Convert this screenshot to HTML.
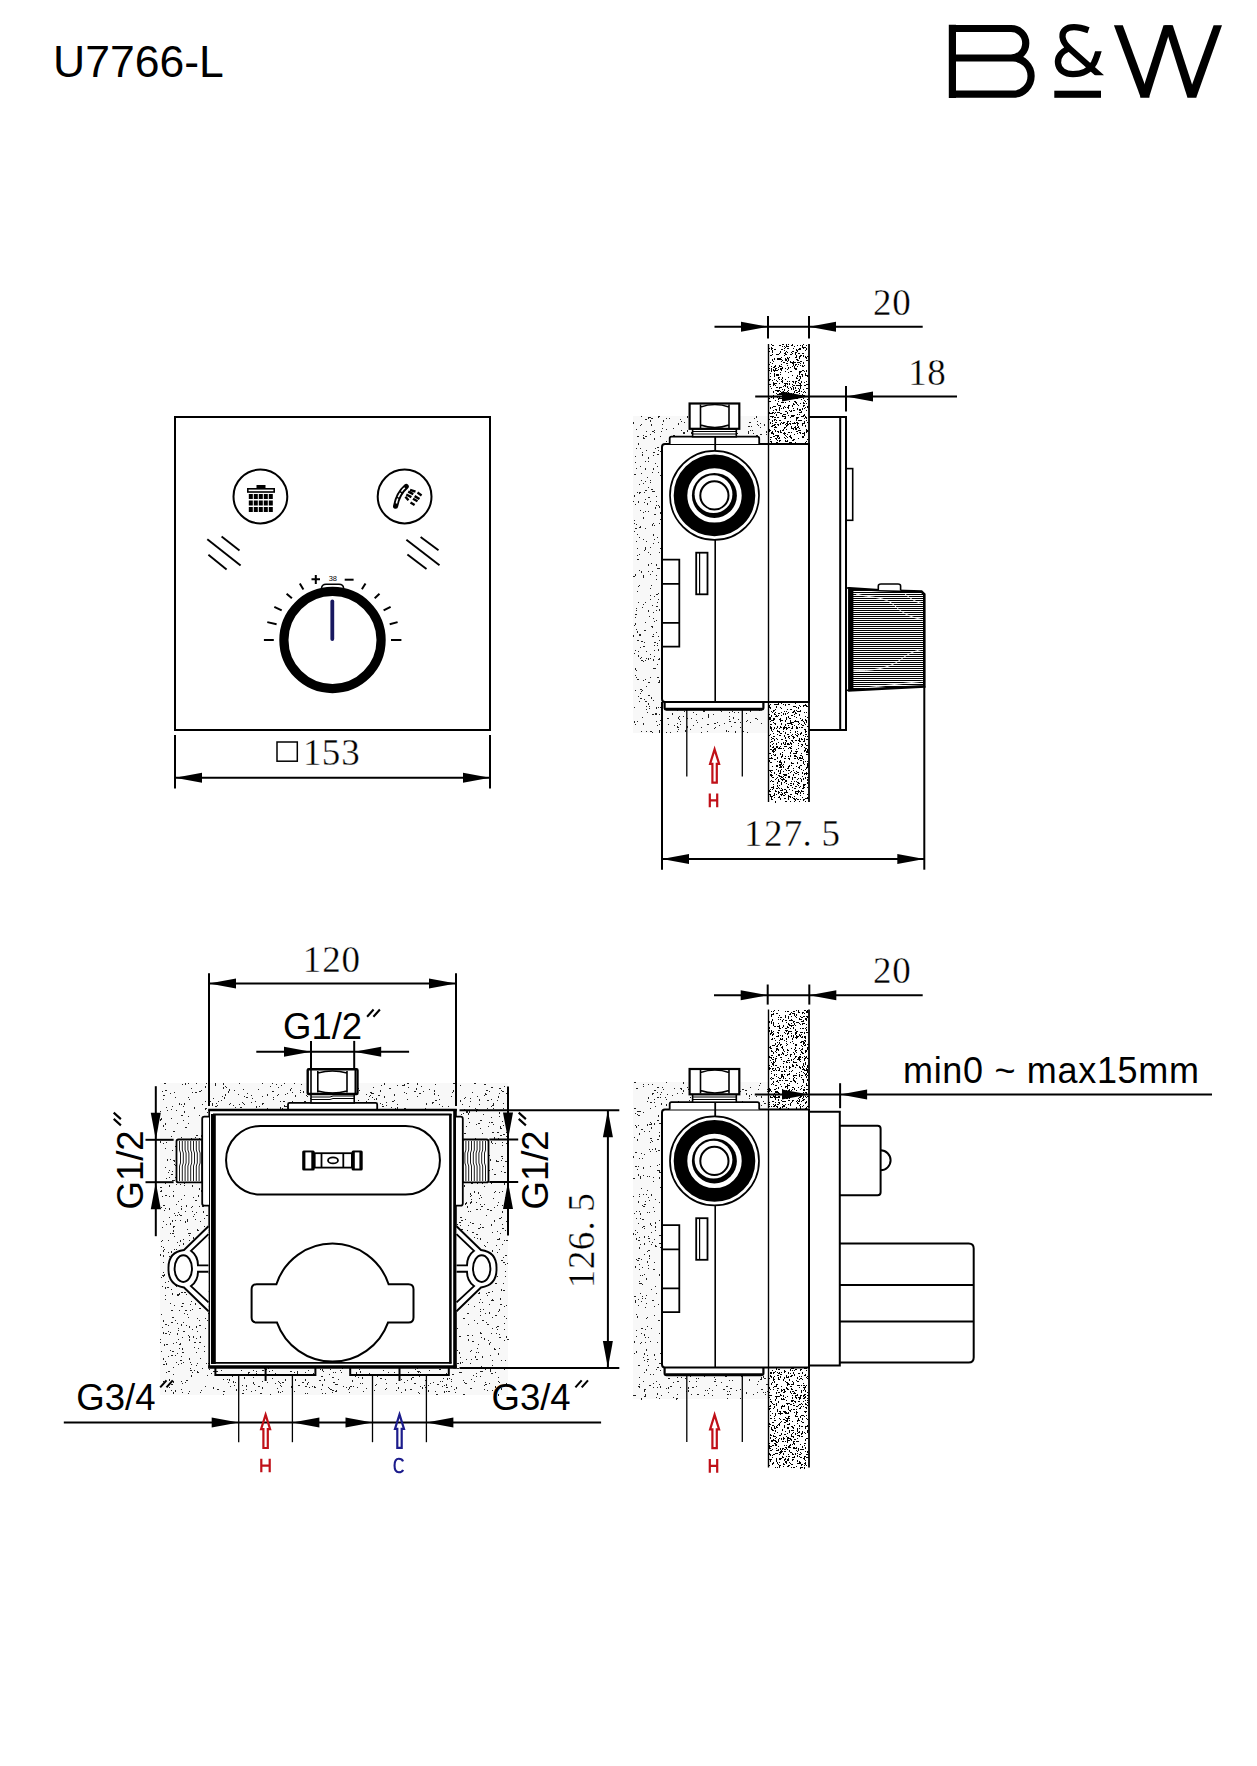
<!DOCTYPE html>
<html><head><meta charset="utf-8"><title>U7766-L</title>
<style>
html,body{margin:0;padding:0;background:#fff;}
svg{display:block}
.sans{font-family:"Liberation Sans",sans-serif;fill:#000;stroke:none}
.serif{font-family:"Liberation Serif",serif;fill:#000;stroke:none}
.thin{stroke:#fff;stroke-width:0.35px;paint-order:fill}
text{-webkit-font-smoothing:antialiased}
.f{fill:#000;stroke:none}
</style></head><body>
<svg width="1257" height="1766" viewBox="0 0 1257 1766" stroke="#000" fill="none" stroke-linecap="butt">

<text x="53" y="77.3" class="sans" font-size="44.5">U7766-L</text><g class="logo"><path d="M952.4 28.5 H1011 A14.75 14.75 0 0 1 1011 58 H952.4 M952.4 58 H1013 A18.1 18.1 0 0 1 1013 94.2 H952.4 M952.4 24.8 V97.9" stroke-width="7.2" fill="none"/><clipPath id="ampclip"><path d="M1040 18 H1090.5 V51.2 H1110 V75.3 H1086 V85 H1040 Z"/></clipPath><g clip-path="url(#ampclip)"><path d="M1088.5 30.3 C1082 28 1078 27.2 1074 27.2 C1066 27.2 1062 31 1062.5 37 C1063 42 1066 45.5 1070 49 L1102 77.5 M1068.5 48.5 C1061 52 1057.5 57 1058 63 C1058.5 70 1065 74.2 1073 74.2 C1083 74.2 1090 70 1094 63 C1096 59 1097.8 54 1099.8 46" stroke-width="6.3" fill="none"/></g><rect x="1054.3" y="90.7" width="46.7" height="7.1" class="f"/><path class="f" d="M1113.9 25.2 H1122.8 L1149.6 97.6 H1140.7 Z"/><path class="f" d="M1140.1 97.6 H1149 L1171.8 25.2 H1163.5 Z"/><path class="f" d="M1164.6 25.2 H1172.8 L1196.3 97.6 H1187.4 Z"/><path class="f" d="M1187.4 97.6 H1196.3 L1222 25.2 H1213.6 Z"/></g><rect x="175" y="417" width="315.00" height="313.00" rx="0" stroke-width="2" /><circle cx="260.4" cy="496.5" r="26.9" stroke-width="2"/><circle cx="404.6" cy="496.5" r="26.9" stroke-width="2"/><rect class="f" x="256.5" y="485" width="9" height="3.5"/><rect x="247.8" y="488.8" width="26.4" height="3.2" stroke-width="1.6"/><rect class="f" x="248.8" y="494" width="4" height="5"/><rect class="f" x="253.8" y="494" width="4" height="5"/><rect class="f" x="258.8" y="494" width="4" height="5"/><rect class="f" x="263.8" y="494" width="4" height="5"/><rect class="f" x="268.8" y="494" width="4" height="5"/><rect class="f" x="248.8" y="500.5" width="4" height="5.0"/><rect class="f" x="253.8" y="500.5" width="4" height="5.0"/><rect class="f" x="258.8" y="500.5" width="4" height="5.0"/><rect class="f" x="263.8" y="500.5" width="4" height="5.0"/><rect class="f" x="268.8" y="500.5" width="4" height="5.0"/><rect class="f" x="248.8" y="507" width="4" height="5"/><rect class="f" x="253.8" y="507" width="4" height="5"/><rect class="f" x="258.8" y="507" width="4" height="5"/><rect class="f" x="263.8" y="507" width="4" height="5"/><rect class="f" x="268.8" y="507" width="4" height="5"/><path d="M395.6 506.2 Q397.6 494 406.2 486.5" stroke-width="5.2" stroke-linecap="round" fill="none"/><path d="M396.4 503.5 Q398.2 494 404.8 487.8" stroke="#fff" stroke-width="1.5" stroke-dasharray="5 1.5" fill="none"/><path d="M410.1 489.8 L415.5 491.6 M417.5 492.6 L421.6 495.4 M408.2 491.7 L413.3 494.2 M406.3 494.5 L411.4 497.1 M414.6 496.1 L419.5 499 M405.4 496.8 L408.5 500.3 M413 498.7 L417.5 501.2 M410.5 502.5 L414.6 505" stroke-width="2.4" fill="none"/><line x1="207.3" y1="539.2" x2="240.6" y2="565.4" stroke-width="1.9" /><line x1="221.6" y1="536.5" x2="239.5" y2="550.4" stroke-width="1.9" /><line x1="208.4" y1="554.7" x2="226.6" y2="569.4" stroke-width="1.9" /><line x1="406.4" y1="539.7" x2="439.5" y2="565.2" stroke-width="1.9" /><line x1="420.6" y1="536.9" x2="438.5" y2="550.3" stroke-width="1.9" /><line x1="407.4" y1="554.6" x2="426.5" y2="569" stroke-width="1.9" /><circle cx="332.5" cy="640" r="48.6" stroke-width="9.2"/><path d="M321.5 588 Q322 584.5 326 584.3 H339 Q343.3 584.5 343.6 588" stroke-width="1.5" fill="none"/><line x1="332.3" y1="601.5" x2="332.3" y2="639" stroke="#181860" stroke-width="3.8" stroke-linecap="round"/><line x1="263.9" y1="640" x2="273.8" y2="640" stroke-width="2" /><line x1="391" y1="640" x2="401.4" y2="640" stroke-width="2" /><line x1="267.3" y1="622.1" x2="276.6" y2="624.3" stroke-width="2" /><line x1="274.3" y1="606.8" x2="281.7" y2="610.3" stroke-width="2" /><line x1="286.6" y1="593.7" x2="291.9" y2="598.2" stroke-width="2" /><line x1="299.8" y1="583.5" x2="303.4" y2="589.5" stroke-width="2" /><line x1="361.9" y1="589.3" x2="365.5" y2="583.5" stroke-width="2" /><line x1="374.7" y1="598.2" x2="379.5" y2="593.7" stroke-width="2" /><line x1="383.6" y1="610.3" x2="390.6" y2="606.8" stroke-width="2" /><line x1="389.7" y1="624.3" x2="397.6" y2="622.1" stroke-width="2" /><line x1="344.7" y1="579.7" x2="353.6" y2="579.7" stroke-width="2" /><path d="M311.5 579.3 H320 M315.8 575 V584" stroke-width="2"/><text x="332.8" y="580.8" class="sans" font-size="7.5" text-anchor="middle">38</text><line x1="175" y1="735" x2="175" y2="788.6" stroke-width="2" /><line x1="490" y1="735" x2="490" y2="788.6" stroke-width="2" /><line x1="175" y1="777.8" x2="490" y2="777.8" stroke-width="2" /><polygon class="f" points="175.0,777.8 202.0,772.8 202.0,782.8"/><polygon class="f" points="490.0,777.8 463.0,772.8 463.0,782.8"/><rect x="277" y="742" width="20.3" height="19.2" stroke-width="1.5"/><text class="serif thin" font-size="37" text-anchor="middle" ><tspan x="312.2" y="764.5">1</tspan><tspan x="331.1" y="764.5">5</tspan><tspan x="350.6" y="764.5">3</tspan></text><path fill="#f8f8f8" stroke="none" d="M633 416 H768 V443 H662 V709 H768 V733 H633 Z"/><path fill="#222" stroke="none" d="M748 433h1v1h-1zM752 430h1v1h-1zM681 421h1v1h-1zM754 436h1v1h-1zM680 419h1v1h-1zM669 418h1v1h-1zM643 435h1v1h-1zM748 436h1v1h-1zM673 435h2v1h-2zM649 417h2v1h-2zM694 435h2v1h-2zM751 426h1v1h-1zM683 432h1v2h-1zM708 431h2v1h-2zM654 430h1v1h-1zM737 433h1v1h-1zM654 438h1v2h-1zM691 432h1v2h-1zM650 434h1v1h-1zM735 419h1v1h-1zM731 418h1v1h-1zM633 422h1v2h-1zM646 431h1v1h-1zM734 429h2v1h-2zM683 440h1v1h-1zM719 418h1v1h-1zM636 429h1v1h-1zM663 420h1v2h-1zM658 416h2v1h-2zM757 421h1v1h-1zM681 430h1v1h-1zM666 429h1v1h-1zM662 428h1v1h-1zM687 416h1v2h-1zM710 416h1v2h-1zM733 435h1v1h-1zM658 417h1v1h-1zM687 430h1v2h-1zM717 442h1v2h-1zM651 418h2v1h-2zM695 416h1v1h-1zM728 435h1v1h-1zM756 442h1v1h-1zM731 421h1v1h-1zM712 423h1v1h-1zM696 439h1v2h-1zM683 437h1v1h-1zM756 435h2v1h-2zM645 419h2v1h-2zM764 424h1v2h-1zM733 424h1v1h-1zM758 425h1v1h-1zM650 420h1v2h-1zM651 424h1v2h-1zM685 439h2v1h-2zM701 429h1v1h-1zM648 417h1v2h-1zM727 432h1v1h-1zM666 418h1v1h-1zM748 426h1v1h-1zM766 434h1v1h-1zM641 416h1v1h-1zM724 438h1v1h-1zM641 416h1v1h-1zM652 431h2v1h-2zM712 426h2v1h-2zM651 418h1v1h-1zM727 439h2v1h-2zM666 441h1v1h-1zM720 427h2v1h-2zM754 418h1v1h-1zM739 441h2v1h-2zM760 434h2v1h-2zM730 428h1v1h-1zM651 418h2v1h-2zM662 424h1v1h-1zM717 428h1v1h-1zM750 430h1v1h-1zM654 432h1v1h-1zM640 425h1v1h-1zM756 416h1v2h-1zM661 431h1v1h-1zM757 424h1v1h-1zM727 425h2v1h-2zM684 432h1v2h-1zM720 437h1v1h-1zM760 423h1v1h-1zM697 422h1v1h-1zM684 422h1v1h-1zM714 422h2v1h-2zM760 427h1v1h-1zM643 438h2v1h-2zM703 442h1v2h-1zM748 431h1v2h-1zM687 442h1v1h-1zM766 431h1v1h-1zM748 426h2v1h-2zM641 424h1v1h-1zM643 437h1v1h-1zM723 425h1v1h-1zM637 436h2v1h-2zM749 422h2v1h-2zM701 423h1v1h-1zM645 436h2v1h-2zM660 436h1v1h-1zM727 418h1v1h-1zM684 442h1v1h-1zM678 438h2v1h-2zM753 433h1v1h-1zM678 423h1v2h-1zM721 433h1v1h-1zM766 432h1v1h-1zM673 428h1v1h-1zM690 418h1v1h-1zM732 420h1v1h-1zM683 436h1v1h-1zM633 635h1v1h-1zM653 700h1v1h-1zM643 680h1v1h-1zM639 493h1v1h-1zM659 506h1v2h-1zM661 642h1v1h-1zM642 717h1v1h-1zM643 577h1v1h-1zM660 451h1v1h-1zM635 462h1v1h-1zM650 658h1v1h-1zM648 457h1v2h-1zM660 475h1v1h-1zM634 531h1v1h-1zM654 514h1v1h-1zM649 708h1v1h-1zM655 668h1v1h-1zM648 487h1v1h-1zM647 712h1v1h-1zM659 730h1v1h-1zM649 706h1v1h-1zM650 574h1v1h-1zM645 549h1v1h-1zM637 721h1v1h-1zM651 697h1v2h-1zM650 501h1v1h-1zM652 636h2v1h-2zM634 707h1v1h-1zM650 731h2v1h-2zM635 528h2v1h-2zM650 677h1v1h-1zM658 649h1v2h-1zM648 695h2v1h-2zM646 686h1v1h-1zM636 541h1v1h-1zM633 576h2v1h-2zM657 454h2v1h-2zM637 559h2v1h-2zM642 607h1v1h-1zM640 698h2v1h-2zM656 505h1v1h-1zM652 571h1v1h-1zM655 714h1v1h-1zM633 635h1v1h-1zM659 714h1v1h-1zM650 547h1v1h-1zM650 554h1v1h-1zM660 720h1v1h-1zM660 512h1v2h-1zM656 620h1v1h-1zM643 604h1v1h-1zM639 554h1v1h-1zM639 492h2v1h-2zM640 510h1v1h-1zM641 641h2v1h-2zM659 658h1v1h-1zM655 507h1v2h-1zM653 452h2v1h-2zM651 626h1v1h-1zM644 502h1v1h-1zM653 618h1v1h-1zM654 539h1v1h-1zM648 497h2v1h-2zM657 725h1v1h-1zM661 689h2v1h-2zM638 501h1v2h-1zM659 523h1v1h-1zM654 491h1v1h-1zM637 679h2v1h-2zM636 610h1v1h-1zM646 706h1v1h-1zM639 634h2v1h-2zM655 463h1v1h-1zM638 651h1v1h-1zM656 632h1v1h-1zM639 527h2v1h-2zM658 450h1v1h-1zM635 650h1v1h-1zM639 701h1v1h-1zM643 575h1v2h-1zM636 524h1v1h-1zM645 511h1v1h-1zM661 718h1v1h-1zM657 664h1v1h-1zM645 548h1v1h-1zM635 617h1v1h-1zM636 448h1v1h-1zM653 468h1v2h-1zM654 596h1v1h-1zM654 650h1v1h-1zM650 482h1v1h-1zM648 552h1v1h-1zM657 645h1v1h-1zM633 501h1v1h-1zM656 564h1v2h-1zM645 701h2v1h-2zM639 635h2v1h-2zM641 571h1v2h-1zM643 724h1v1h-1zM646 709h1v1h-1zM636 670h1v1h-1zM635 724h1v1h-1zM657 466h1v1h-1zM638 640h1v1h-1zM638 696h1v1h-1zM652 472h1v1h-1zM648 658h1v2h-1zM645 602h1v1h-1zM642 690h1v1h-1zM650 588h1v1h-1zM656 594h2v1h-2zM657 568h1v1h-1zM653 523h1v1h-1zM654 642h2v1h-2zM643 646h2v1h-2zM656 606h2v1h-2zM661 557h1v1h-1zM648 571h1v1h-1zM640 466h1v1h-1zM658 682h2v1h-2zM659 568h1v1h-1zM636 468h1v1h-1zM647 503h1v2h-1zM634 625h1v1h-1zM636 629h1v1h-1zM654 656h1v1h-1zM641 657h1v1h-1zM656 714h1v1h-1zM637 591h1v1h-1zM640 689h2v1h-2zM661 601h1v1h-1zM652 626h1v2h-1zM652 732h1v1h-1zM639 585h1v1h-1zM639 570h1v1h-1zM653 543h1v1h-1zM634 474h2v1h-2zM641 660h2v1h-2zM634 495h1v2h-1zM641 480h1v1h-1zM654 525h1v1h-1zM653 634h1v1h-1zM644 550h1v1h-1zM648 511h1v1h-1zM635 504h1v1h-1zM659 552h1v1h-1zM656 575h1v1h-1zM637 631h1v2h-1zM659 609h1v2h-1zM657 537h1v1h-1zM644 492h1v1h-1zM643 483h1v1h-1zM646 731h1v1h-1zM659 680h1v2h-1zM657 447h2v1h-2zM639 484h1v1h-1zM648 610h1v2h-1zM637 555h1v1h-1zM656 610h1v1h-1zM636 608h1v1h-1zM651 585h1v1h-1zM658 599h1v1h-1zM640 647h1v1h-1zM656 707h1v2h-1zM644 630h2v1h-2zM654 645h1v1h-1zM658 542h1v1h-1zM644 642h1v1h-1zM659 731h1v2h-1zM635 675h1v1h-1zM642 454h1v2h-1zM634 721h1v2h-1zM642 454h1v1h-1zM658 659h2v1h-2zM650 599h1v1h-1zM635 614h2v1h-2zM656 496h1v1h-1zM635 456h1v1h-1zM637 492h1v1h-1zM653 659h1v2h-1zM640 693h1v1h-1zM649 616h1v1h-1zM645 622h1v1h-1zM643 512h1v1h-1zM650 480h1v1h-1zM634 653h1v1h-1zM654 621h1v1h-1zM658 636h1v1h-1zM661 680h1v1h-1zM653 455h1v1h-1zM655 448h1v1h-1zM646 658h1v1h-1zM640 526h1v1h-1zM645 528h1v1h-1zM645 660h1v1h-1zM641 473h1v1h-1zM656 501h1v1h-1zM637 534h1v1h-1zM657 677h2v1h-2zM648 461h1v1h-1zM639 537h1v1h-1zM651 563h1v1h-1zM648 703h1v2h-1zM638 586h1v1h-1zM657 602h1v1h-1zM659 724h1v1h-1zM641 691h1v1h-1zM643 723h1v1h-1zM635 690h1v1h-1zM645 468h1v2h-1zM637 640h1v1h-1zM658 707h1v1h-1zM658 472h1v1h-1zM640 448h1v1h-1zM661 633h1v1h-1zM640 658h1v1h-1zM638 655h1v2h-1zM643 517h1v2h-1zM660 707h2v1h-2zM656 579h1v1h-1zM634 520h1v1h-1zM638 443h1v2h-1zM660 519h1v1h-1zM635 623h1v2h-1zM655 713h2v1h-2zM648 682h2v1h-2zM656 721h1v1h-1zM642 452h1v1h-1zM646 541h1v1h-1zM635 668h1v2h-1zM650 654h1v1h-1zM638 602h1v1h-1zM645 481h1v1h-1zM647 477h1v1h-1zM654 514h2v1h-2zM645 679h1v1h-1zM658 505h1v1h-1zM633 636h1v1h-1zM648 564h1v2h-1zM636 677h1v1h-1zM660 548h1v1h-1zM637 591h1v1h-1zM650 595h1v1h-1zM657 643h1v1h-1zM635 574h1v2h-1zM645 499h1v1h-1zM641 731h1v1h-1zM653 612h1v1h-1zM645 490h2v1h-2zM652 491h2v1h-2zM653 534h1v2h-1zM645 461h1v1h-1zM651 489h2v1h-2zM634 523h1v1h-1zM646 651h1v1h-1zM643 661h1v1h-1zM637 548h1v1h-1zM659 640h1v1h-1zM646 450h1v1h-1zM652 605h1v1h-1zM658 568h1v1h-1zM652 714h2v1h-2zM643 539h1v1h-1zM653 668h2v1h-2zM645 547h1v1h-1zM658 593h1v1h-1zM652 524h1v2h-1zM650 595h1v1h-1zM644 699h1v1h-1zM735 731h1v2h-1zM728 731h1v1h-1zM687 727h1v1h-1zM742 730h1v2h-1zM672 713h1v2h-1zM735 722h1v1h-1zM704 711h1v1h-1zM708 717h1v1h-1zM677 723h1v1h-1zM679 716h1v1h-1zM731 726h1v1h-1zM733 717h1v2h-1zM757 719h1v1h-1zM677 709h1v2h-1zM708 716h1v1h-1zM708 714h1v2h-1zM732 711h1v1h-1zM713 714h1v1h-1zM746 713h1v1h-1zM747 732h1v1h-1zM740 727h1v1h-1zM759 709h1v2h-1zM714 723h2v1h-2zM729 721h2v1h-2zM713 714h1v1h-1zM678 717h1v2h-1zM704 710h1v1h-1zM666 732h1v1h-1zM680 721h1v1h-1zM738 712h1v1h-1zM714 728h1v1h-1zM734 722h1v1h-1zM724 723h1v1h-1zM750 722h1v1h-1zM677 727h2v1h-2zM729 719h1v1h-1zM717 722h1v1h-1zM703 710h1v2h-1zM740 722h1v1h-1zM738 719h1v1h-1zM701 727h1v1h-1zM693 712h1v1h-1zM693 725h1v1h-1zM668 724h1v1h-1zM729 716h1v1h-1zM746 721h1v1h-1zM670 732h1v1h-1zM747 720h1v1h-1zM715 727h1v1h-1zM690 729h1v1h-1zM734 712h1v1h-1zM674 725h1v1h-1zM677 726h1v1h-1zM720 709h1v2h-1zM755 718h2v1h-2zM684 711h1v1h-1zM719 725h1v1h-1zM707 731h1v1h-1zM667 718h2v1h-2zM702 718h1v1h-1zM680 724h1v1h-1zM687 718h1v1h-1zM750 710h1v2h-1zM707 724h2v1h-2zM743 731h1v1h-1zM687 726h1v1h-1zM686 710h1v1h-1zM701 732h1v1h-1zM697 722h1v1h-1zM679 719h1v1h-1zM761 723h1v1h-1zM683 716h1v1h-1zM677 731h1v1h-1zM696 714h1v1h-1zM726 730h1v2h-1zM696 720h1v1h-1zM729 712h1v1h-1zM691 718h1v1h-1zM685 730h1v2h-1zM678 729h1v1h-1zM721 711h1v1h-1z"/><path fill="#000" stroke="none" d="M785 438h1v1h-1zM802 347h1v1h-1zM784 427h2v1h-2zM779 358h1v1h-1zM784 392h1v1h-1zM805 375h2v1h-2zM782 396h1v2h-1zM793 364h1v1h-1zM773 361h1v1h-1zM797 360h2v1h-2zM769 370h1v1h-1zM779 365h1v2h-1zM781 413h1v1h-1zM782 367h1v1h-1zM781 393h1v2h-1zM792 397h2v1h-2zM778 377h2v1h-2zM788 421h1v1h-1zM807 430h1v1h-1zM773 383h1v1h-1zM788 405h1v1h-1zM780 405h1v1h-1zM780 351h1v2h-1zM770 439h1v1h-1zM794 346h1v1h-1zM795 390h1v1h-1zM769 401h2v1h-2zM780 423h1v1h-1zM781 359h1v1h-1zM798 388h1v1h-1zM802 376h1v1h-1zM775 419h1v1h-1zM792 381h2v1h-2zM774 370h1v2h-1zM792 362h1v2h-1zM803 355h1v2h-1zM789 383h1v2h-1zM774 424h2v1h-2zM788 405h2v1h-2zM772 354h1v1h-1zM803 395h2v1h-2zM807 388h1v1h-1zM798 427h1v1h-1zM772 425h2v1h-2zM800 386h1v1h-1zM777 437h1v1h-1zM777 424h1v1h-1zM795 357h2v1h-2zM792 363h2v1h-2zM795 381h2v1h-2zM779 410h1v1h-1zM800 432h1v1h-1zM799 379h1v2h-1zM794 362h2v1h-2zM803 366h1v1h-1zM800 387h1v2h-1zM800 378h1v1h-1zM804 408h1v1h-1zM791 432h1v1h-1zM771 441h1v2h-1zM804 434h1v1h-1zM800 377h1v1h-1zM787 387h1v1h-1zM806 345h1v1h-1zM785 385h1v1h-1zM798 380h1v1h-1zM791 388h1v2h-1zM791 438h1v1h-1zM795 388h1v1h-1zM780 432h1v1h-1zM792 386h1v1h-1zM802 365h1v2h-1zM792 405h1v2h-1zM774 436h1v1h-1zM795 365h1v1h-1zM806 410h1v1h-1zM795 382h1v1h-1zM786 436h1v1h-1zM781 364h1v1h-1zM780 372h1v1h-1zM780 424h1v1h-1zM799 372h2v1h-2zM777 358h1v2h-1zM780 405h1v2h-1zM771 397h1v1h-1zM793 428h1v1h-1zM806 370h1v2h-1zM792 344h1v1h-1zM786 396h1v1h-1zM804 391h1v1h-1zM804 422h1v2h-1zM787 413h1v1h-1zM806 381h1v1h-1zM777 397h1v1h-1zM805 426h1v1h-1zM798 362h2v1h-2zM793 416h1v1h-1zM781 361h1v1h-1zM791 428h2v1h-2zM775 385h1v1h-1zM803 362h1v2h-1zM805 392h1v1h-1zM783 407h1v2h-1zM793 393h1v1h-1zM779 420h1v1h-1zM788 407h1v2h-1zM770 384h1v1h-1zM788 406h1v1h-1zM778 405h2v1h-2zM797 375h1v2h-1zM777 394h2v1h-2zM803 415h1v2h-1zM799 348h1v2h-1zM786 363h1v1h-1zM787 381h1v1h-1zM799 410h1v1h-1zM807 439h1v1h-1zM770 441h2v1h-2zM787 412h1v1h-1zM787 437h1v1h-1zM798 388h1v1h-1zM806 360h2v1h-2zM785 414h1v1h-1zM775 431h1v1h-1zM769 398h1v1h-1zM796 420h1v1h-1zM799 393h1v1h-1zM781 381h1v1h-1zM773 382h1v1h-1zM796 418h1v2h-1zM799 383h2v1h-2zM799 432h1v1h-1zM800 386h1v1h-1zM796 418h1v1h-1zM772 352h1v1h-1zM786 354h1v1h-1zM770 386h1v1h-1zM773 395h1v1h-1zM772 359h1v1h-1zM783 422h1v1h-1zM776 435h1v1h-1zM787 434h1v1h-1zM778 367h1v1h-1zM795 364h2v1h-2zM782 349h1v1h-1zM793 439h2v1h-2zM772 417h1v1h-1zM794 423h2v1h-2zM796 355h1v2h-1zM807 406h1v1h-1zM792 351h2v1h-2zM787 363h1v1h-1zM801 381h1v1h-1zM804 414h1v1h-1zM785 352h1v1h-1zM785 440h1v2h-1zM777 374h1v1h-1zM798 438h1v1h-1zM777 435h2v1h-2zM790 354h1v1h-1zM771 355h1v1h-1zM801 420h1v1h-1zM793 403h1v1h-1zM789 357h1v1h-1zM770 413h1v1h-1zM772 363h1v1h-1zM796 431h1v1h-1zM776 354h1v1h-1zM800 371h2v1h-2zM793 389h1v1h-1zM787 386h1v1h-1zM791 393h1v1h-1zM791 426h1v2h-1zM796 390h1v1h-1zM806 417h1v2h-1zM780 394h2v1h-2zM771 348h1v2h-1zM781 349h1v1h-1zM799 428h1v1h-1zM769 398h1v1h-1zM796 385h1v1h-1zM775 368h2v1h-2zM779 353h1v1h-1zM793 404h2v1h-2zM785 358h1v2h-1zM779 440h1v2h-1zM784 348h1v1h-1zM771 388h1v1h-1zM792 384h1v1h-1zM770 430h1v1h-1zM778 359h1v1h-1zM789 381h1v1h-1zM784 437h1v1h-1zM771 369h1v1h-1zM805 373h1v1h-1zM794 434h1v1h-1zM788 367h1v1h-1zM787 352h1v1h-1zM798 364h1v1h-1zM780 430h1v2h-1zM771 426h1v1h-1zM786 344h1v1h-1zM797 431h1v1h-1zM771 348h1v1h-1zM802 416h1v1h-1zM775 435h2v1h-2zM800 355h1v1h-1zM772 431h1v2h-1zM772 407h1v1h-1zM772 350h1v2h-1zM795 401h1v2h-1zM772 348h1v1h-1zM781 366h1v1h-1zM794 368h1v1h-1zM774 384h1v1h-1zM774 413h1v1h-1zM779 420h2v1h-2zM782 423h2v1h-2zM803 389h1v1h-1zM805 442h1v1h-1zM777 436h2v1h-2zM788 432h1v1h-1zM783 414h2v1h-2zM788 405h2v1h-2zM785 395h1v2h-1zM777 412h2v1h-2zM784 433h2v1h-2zM796 417h1v1h-1zM786 351h1v1h-1zM784 350h1v1h-1zM787 391h1v1h-1zM773 397h1v1h-1zM793 440h1v1h-1zM769 380h1v1h-1zM777 417h2v1h-2zM778 432h1v1h-1zM770 437h2v1h-2zM796 378h2v1h-2zM793 415h2v1h-2zM773 383h2v1h-2zM785 407h1v1h-1zM787 348h2v1h-2zM804 347h2v1h-2zM772 360h1v1h-1zM796 377h1v1h-1zM770 373h1v1h-1zM777 390h1v2h-1zM791 345h2v1h-2zM779 437h1v1h-1zM786 411h1v1h-1zM778 401h1v1h-1zM796 398h2v1h-2zM789 401h1v1h-1zM798 420h1v1h-1zM797 350h1v1h-1zM779 412h1v1h-1zM800 420h2v1h-2zM777 397h1v1h-1zM782 344h2v1h-2zM805 374h1v1h-1zM791 394h1v1h-1zM781 379h1v1h-1zM788 415h1v1h-1zM784 390h1v1h-1zM784 428h1v1h-1zM772 423h1v1h-1zM791 362h2v1h-2zM784 406h1v1h-1zM775 365h1v1h-1zM787 369h1v1h-1zM789 405h1v1h-1zM803 423h2v1h-2zM781 392h1v1h-1zM775 409h1v1h-1zM780 393h2v1h-2zM770 422h1v2h-1zM793 408h1v1h-1zM794 401h1v1h-1zM806 432h1v1h-1zM772 412h2v1h-2zM795 390h1v1h-1zM770 430h1v1h-1zM782 380h1v2h-1zM770 355h1v1h-1zM806 441h1v1h-1zM795 383h1v1h-1zM769 379h1v1h-1zM784 353h2v1h-2zM774 429h1v1h-1zM788 388h1v1h-1zM807 422h1v1h-1zM799 410h2v1h-2zM776 374h1v2h-1zM803 398h1v1h-1zM769 429h1v1h-1zM780 440h1v1h-1zM782 430h1v1h-1zM793 385h2v1h-2zM804 432h1v1h-1zM792 375h1v1h-1zM782 381h1v2h-1zM786 423h2v1h-2zM779 353h1v1h-1zM780 372h1v1h-1zM805 416h1v1h-1zM803 437h1v1h-1zM783 398h1v1h-1zM807 375h1v2h-1zM786 354h1v1h-1zM790 367h1v1h-1zM778 358h1v2h-1zM804 421h1v1h-1zM796 368h1v2h-1zM775 426h1v1h-1zM790 437h2v1h-2zM800 361h1v1h-1zM773 384h1v2h-1zM798 426h1v1h-1zM783 433h1v1h-1zM799 356h2v1h-2zM779 358h2v1h-2zM778 391h1v1h-1zM775 417h1v1h-1zM789 442h1v1h-1zM804 418h1v1h-1zM775 390h2v1h-2zM773 369h1v2h-1zM792 366h1v1h-1zM774 375h1v1h-1zM803 403h1v1h-1zM776 420h1v1h-1zM777 431h2v1h-2zM793 387h1v1h-1zM773 406h1v1h-1zM787 346h2v1h-2zM799 389h1v1h-1zM781 387h1v1h-1zM787 407h1v1h-1zM774 417h2v1h-2zM795 387h1v1h-1zM773 410h1v1h-1zM783 397h1v1h-1zM786 429h1v1h-1zM778 378h1v1h-1zM804 405h1v1h-1zM780 413h1v1h-1zM784 355h1v1h-1zM777 354h2v1h-2zM778 390h1v1h-1zM770 376h1v1h-1zM793 410h2v1h-2zM782 368h1v1h-1zM797 345h1v1h-1zM774 379h1v1h-1zM799 409h2v1h-2zM779 394h1v1h-1zM801 399h1v1h-1zM806 348h1v2h-1zM795 442h1v1h-1zM796 392h2v1h-2zM779 387h2v1h-2zM781 398h1v1h-1zM773 391h1v2h-1zM795 368h1v2h-1zM799 390h1v2h-1zM776 442h2v1h-2zM798 353h2v1h-2zM793 348h1v1h-1zM778 369h1v1h-1zM800 384h1v1h-1zM777 403h1v2h-1zM792 423h2v1h-2zM780 398h2v1h-2zM777 440h1v1h-1zM790 371h2v1h-2zM802 433h1v1h-1zM787 358h2v1h-2zM794 391h1v2h-1zM799 414h1v1h-1zM784 416h2v1h-2zM770 413h2v1h-2zM793 361h1v2h-1zM772 345h2v1h-2zM782 397h1v2h-1zM784 383h2v1h-2zM801 374h2v1h-2zM793 388h1v1h-1zM804 382h1v1h-1zM775 427h2v1h-2zM792 416h1v1h-1zM806 420h1v1h-1zM793 382h1v1h-1zM806 431h2v1h-2zM797 351h1v1h-1zM802 423h1v1h-1zM801 382h1v1h-1zM792 396h2v1h-2zM791 352h1v1h-1zM805 416h1v2h-1zM798 349h2v1h-2zM774 358h1v2h-1zM778 391h1v1h-1zM785 379h1v1h-1zM778 438h2v1h-2zM785 347h1v1h-1zM793 365h1v1h-1zM784 433h1v2h-1zM797 366h1v1h-1zM805 350h1v1h-1zM791 415h2v1h-2zM798 349h1v1h-1zM800 430h1v1h-1zM771 347h1v1h-1zM776 396h1v1h-1zM797 422h1v1h-1zM803 433h2v1h-2zM773 436h1v1h-1zM774 349h2v1h-2zM798 382h1v1h-1zM803 436h1v1h-1zM786 359h1v1h-1zM788 377h1v1h-1zM788 344h1v1h-1zM789 410h1v1h-1zM800 403h1v1h-1zM782 377h1v2h-1zM782 402h2v1h-2zM791 354h1v1h-1zM797 423h1v1h-1zM794 366h1v2h-1zM800 365h1v1h-1zM797 417h1v2h-1zM770 362h1v1h-1zM805 407h1v1h-1zM782 415h1v2h-1zM779 397h1v1h-1zM785 384h1v2h-1zM775 369h1v2h-1zM791 410h1v2h-1zM774 358h1v1h-1zM776 387h2v1h-2zM787 440h1v1h-1zM772 413h1v1h-1zM790 436h1v1h-1zM775 396h1v1h-1zM775 383h2v1h-2zM790 396h1v1h-1zM795 352h2v1h-2zM773 367h2v1h-2zM775 438h1v1h-1zM801 396h2v1h-2zM795 353h1v2h-1zM770 416h1v1h-1zM775 431h1v1h-1zM792 353h1v1h-1zM775 365h1v1h-1zM776 422h1v1h-1zM774 427h1v1h-1zM803 392h1v1h-1zM786 383h1v1h-1zM796 349h1v2h-1zM801 361h1v1h-1zM780 368h1v2h-1zM802 353h2v1h-2zM772 426h1v1h-1zM797 414h1v1h-1zM805 425h1v1h-1zM787 365h1v1h-1zM785 402h1v1h-1zM807 356h2v1h-2zM781 402h1v1h-1zM775 400h1v1h-1zM777 375h2v1h-2zM774 436h1v1h-1zM798 430h2v1h-2zM799 357h1v2h-1zM785 424h1v1h-1zM772 413h1v1h-1zM776 370h1v1h-1zM790 417h1v1h-1zM800 410h1v1h-1zM787 421h1v2h-1zM787 361h1v1h-1zM787 397h1v1h-1zM777 381h1v1h-1zM771 344h1v1h-1zM779 383h1v1h-1zM795 428h1v2h-1zM806 430h1v1h-1zM802 408h1v2h-1zM769 364h1v1h-1zM769 412h1v1h-1zM798 391h2v1h-2zM803 344h1v1h-1zM776 438h1v2h-1zM779 408h1v2h-1zM794 427h2v1h-2zM795 426h1v1h-1zM786 345h1v2h-1zM784 418h2v1h-2zM801 391h1v1h-1zM788 372h1v1h-1zM792 415h1v1h-1zM797 431h1v1h-1zM785 411h1v1h-1zM778 398h2v1h-2zM769 368h1v1h-1zM775 366h1v1h-1zM797 404h1v1h-1zM802 353h2v1h-2zM798 423h1v1h-1zM782 346h1v1h-1zM797 408h1v2h-1zM773 433h1v2h-1zM775 412h1v1h-1zM774 366h1v2h-1zM769 348h1v1h-1zM788 368h1v1h-1zM793 394h2v1h-2zM776 393h1v1h-1zM782 360h1v1h-1zM797 362h1v1h-1zM770 379h1v1h-1zM781 432h1v1h-1zM786 441h2v1h-2zM783 398h1v1h-1zM795 428h1v1h-1zM804 435h1v1h-1zM781 369h1v2h-1zM785 435h1v1h-1zM771 368h1v1h-1zM779 390h1v1h-1zM807 399h1v1h-1zM778 424h1v2h-1zM769 413h2v1h-2zM796 357h1v1h-1zM804 403h1v1h-1zM789 436h1v1h-1zM774 406h2v1h-2zM769 351h1v1h-1zM792 440h1v1h-1zM785 417h1v1h-1zM790 421h1v1h-1zM795 365h1v1h-1zM804 400h1v1h-1zM770 373h1v1h-1zM775 409h2v1h-2zM803 405h1v2h-1zM807 384h2v1h-2zM789 396h2v1h-2zM791 442h1v1h-1zM788 424h1v1h-1zM776 410h1v1h-1zM774 349h1v1h-1zM799 371h1v1h-1zM778 398h1v2h-1zM797 417h2v1h-2zM802 375h1v1h-1zM774 419h1v2h-1zM793 381h1v1h-1zM779 388h1v1h-1zM796 355h1v1h-1zM782 389h1v1h-1zM798 385h2v1h-2zM800 385h2v1h-2zM797 433h1v1h-1zM772 420h1v2h-1zM787 383h1v2h-1zM801 411h1v2h-1zM801 355h1v1h-1zM805 401h1v1h-1zM781 422h1v1h-1zM796 359h2v1h-2zM797 385h1v1h-1zM788 390h1v1h-1zM806 357h1v2h-1zM797 362h1v1h-1zM771 416h2v1h-2zM772 352h1v1h-1zM787 424h1v2h-1zM796 428h1v2h-1zM796 402h1v2h-1zM790 411h1v1h-1zM801 416h1v1h-1zM798 423h1v1h-1zM771 366h1v1h-1zM789 423h2v1h-2zM797 378h1v1h-1zM790 424h1v1h-1zM793 395h1v1h-1zM785 360h2v1h-2zM803 402h1v1h-1zM780 366h1v1h-1zM769 431h1v1h-1zM785 368h1v1h-1zM796 422h1v1h-1zM776 380h1v1h-1zM781 368h1v1h-1zM784 432h1v1h-1zM806 429h1v1h-1zM776 414h1v2h-1zM790 387h1v1h-1zM779 345h2v1h-2zM800 348h1v2h-1zM802 370h2v1h-2zM783 386h1v1h-1zM783 391h1v1h-1zM771 433h2v1h-2zM781 357h1v1h-1zM788 359h1v2h-1zM773 425h2v1h-2zM806 388h1v1h-1zM785 396h2v1h-2zM786 383h2v1h-2zM780 374h1v1h-1zM800 345h1v1h-1zM799 373h1v1h-1zM804 371h1v1h-1zM805 356h1v2h-1zM771 432h1v2h-1zM798 362h2v1h-2zM774 375h1v2h-1zM784 422h1v1h-1zM769 419h1v1h-1zM802 394h1v1h-1zM786 425h1v2h-1zM806 381h1v1h-1zM769 419h1v1h-1zM783 344h1v1h-1zM774 373h1v2h-1zM793 429h1v1h-1zM782 380h1v1h-1zM777 370h1v1h-1zM779 359h1v1h-1zM807 406h1v2h-1zM797 424h1v2h-1zM785 354h1v1h-1zM806 403h1v1h-1zM775 430h1v1h-1zM791 416h1v1h-1zM802 345h1v2h-1zM804 365h1v1h-1zM788 392h1v2h-1zM799 420h1v1h-1zM790 361h1v2h-1zM804 415h1v1h-1zM775 422h1v1h-1zM770 407h1v2h-1zM803 347h1v2h-1zM779 379h1v1h-1zM786 354h1v1h-1zM788 432h2v1h-2zM784 346h1v1h-1zM786 392h1v1h-1zM785 352h1v1h-1zM800 363h1v1h-1zM799 412h2v1h-2zM794 422h1v1h-1zM781 408h1v1h-1zM785 386h1v1h-1zM780 391h1v1h-1zM779 393h1v1h-1zM783 416h1v1h-1zM772 380h1v1h-1zM783 397h1v1h-1zM802 436h1v2h-1zM798 405h1v1h-1zM797 424h1v1h-1zM784 385h1v1h-1zM783 362h2v1h-2zM797 427h1v1h-1zM769 430h2v1h-2zM800 433h1v1h-1zM777 358h1v1h-1zM773 398h1v1h-1zM780 359h1v1h-1zM790 442h1v1h-1zM802 425h1v1h-1zM790 435h1v2h-1zM779 407h1v1h-1zM804 385h2v1h-2zM806 384h2v1h-2zM771 370h1v2h-1zM785 379h1v1h-1zM783 429h1v2h-1zM773 416h1v1h-1zM799 373h1v2h-1zM785 371h1v1h-1zM769 384h2v1h-2zM778 374h1v2h-1zM784 389h1v1h-1zM787 357h1v1h-1zM799 376h2v1h-2zM802 424h1v2h-1zM778 787h1v1h-1zM775 714h1v1h-1zM778 771h1v1h-1zM783 742h1v2h-1zM780 707h1v1h-1zM796 751h2v1h-2zM785 769h1v1h-1zM774 714h2v1h-2zM788 773h1v1h-1zM778 748h1v1h-1zM804 740h1v2h-1zM796 756h1v1h-1zM769 760h1v1h-1zM799 714h1v2h-1zM773 733h1v1h-1zM776 715h1v1h-1zM801 781h1v1h-1zM781 788h1v1h-1zM799 768h1v1h-1zM781 720h1v1h-1zM770 717h1v1h-1zM795 703h1v1h-1zM798 745h1v1h-1zM789 765h1v2h-1zM783 764h1v1h-1zM773 736h2v1h-2zM806 772h1v2h-1zM796 707h1v1h-1zM798 708h1v1h-1zM772 731h1v1h-1zM806 721h1v2h-1zM784 789h2v1h-2zM802 756h1v2h-1zM797 784h1v1h-1zM777 758h1v1h-1zM792 763h2v1h-2zM798 740h2v1h-2zM798 743h1v1h-1zM792 779h1v1h-1zM784 711h1v1h-1zM792 741h1v1h-1zM771 797h1v2h-1zM791 723h1v1h-1zM793 768h1v1h-1zM807 736h1v1h-1zM783 778h1v2h-1zM770 745h1v1h-1zM775 801h1v2h-1zM796 798h1v1h-1zM799 787h1v1h-1zM796 726h1v1h-1zM794 716h1v1h-1zM793 742h1v1h-1zM791 722h1v1h-1zM786 741h1v1h-1zM779 731h1v1h-1zM771 798h1v1h-1zM783 713h1v1h-1zM791 740h2v1h-2zM778 779h1v2h-1zM800 799h1v1h-1zM799 727h1v1h-1zM797 736h1v1h-1zM806 705h1v1h-1zM807 726h2v1h-2zM779 767h2v1h-2zM805 744h1v1h-1zM770 704h1v1h-1zM804 747h1v1h-1zM776 791h1v1h-1zM780 790h1v1h-1zM789 738h1v1h-1zM782 780h1v1h-1zM779 719h1v1h-1zM799 738h1v1h-1zM794 796h1v1h-1zM785 742h1v2h-1zM787 786h1v1h-1zM807 773h1v1h-1zM784 735h1v1h-1zM775 712h1v1h-1zM807 754h1v1h-1zM775 748h1v1h-1zM800 755h2v1h-2zM807 749h1v2h-1zM805 734h2v1h-2zM802 797h1v1h-1zM781 777h1v1h-1zM776 765h2v1h-2zM773 746h1v2h-1zM807 797h1v2h-1zM772 751h2v1h-2zM797 799h2v1h-2zM797 791h2v1h-2zM769 714h1v1h-1zM782 777h1v1h-1zM783 776h1v1h-1zM796 766h1v1h-1zM788 716h1v2h-1zM804 764h1v1h-1zM807 765h2v1h-2zM777 782h1v1h-1zM786 719h1v1h-1zM793 798h2v1h-2zM779 747h1v1h-1zM798 785h1v1h-1zM795 731h1v2h-1zM791 762h1v1h-1zM796 717h1v1h-1zM770 770h1v1h-1zM770 726h1v1h-1zM803 759h1v1h-1zM790 743h1v1h-1zM795 712h1v2h-1zM793 711h2v1h-2zM773 711h1v1h-1zM801 720h2v1h-2zM800 757h1v1h-1zM791 750h1v2h-1zM792 726h1v1h-1zM781 712h1v1h-1zM788 736h2v1h-2zM795 777h1v1h-1zM789 718h1v1h-1zM778 703h1v2h-1zM781 708h1v1h-1zM792 734h1v1h-1zM800 711h1v1h-1zM773 788h1v1h-1zM780 776h1v1h-1zM771 775h2v1h-2zM770 774h1v2h-1zM775 716h1v1h-1zM769 770h1v1h-1zM807 761h1v1h-1zM784 750h1v1h-1zM771 799h2v1h-2zM781 762h1v2h-1zM783 748h1v1h-1zM805 761h1v1h-1zM784 726h1v1h-1zM780 727h2v1h-2zM806 751h1v1h-1zM770 789h1v1h-1zM807 763h1v2h-1zM783 704h1v1h-1zM796 721h2v1h-2zM785 724h1v2h-1zM775 790h1v2h-1zM781 748h1v1h-1zM803 786h1v1h-1zM780 799h1v1h-1zM779 764h1v2h-1zM790 709h2v1h-2zM802 772h1v2h-1zM785 720h1v1h-1zM797 711h2v1h-2zM777 734h1v1h-1zM792 736h2v1h-2zM797 731h1v1h-1zM799 801h1v1h-1zM798 724h1v1h-1zM785 798h1v1h-1zM781 792h1v1h-1zM770 707h1v2h-1zM795 731h1v1h-1zM806 702h1v1h-1zM805 743h1v1h-1zM807 717h1v1h-1zM798 792h1v1h-1zM804 712h1v1h-1zM788 787h1v1h-1zM782 756h1v1h-1zM771 711h1v1h-1zM796 749h1v1h-1zM785 727h2v1h-2zM785 801h2v1h-2zM778 797h2v1h-2zM774 723h1v1h-1zM773 718h1v1h-1zM804 785h1v1h-1zM785 794h1v1h-1zM786 783h1v1h-1zM793 738h1v1h-1zM797 757h1v2h-1zM774 718h1v2h-1zM805 749h1v1h-1zM783 766h1v2h-1zM793 722h1v1h-1zM795 751h1v1h-1zM786 790h1v2h-1zM801 744h2v1h-2zM794 710h1v1h-1zM807 779h1v1h-1zM804 773h1v2h-1zM770 771h1v1h-1zM801 727h2v1h-2zM800 710h1v1h-1zM790 722h1v2h-1zM797 772h2v1h-2zM779 762h2v1h-2zM791 781h1v1h-1zM803 721h1v1h-1zM785 733h1v1h-1zM780 720h1v1h-1zM780 735h1v1h-1zM797 793h1v2h-1zM780 754h1v1h-1zM771 720h2v1h-2zM792 777h1v2h-1zM787 728h1v1h-1zM794 781h1v1h-1zM807 780h1v1h-1zM769 718h1v1h-1zM785 792h1v1h-1zM774 793h1v1h-1zM790 785h2v1h-2zM803 791h1v1h-1zM782 793h1v1h-1zM781 782h1v1h-1zM791 765h1v1h-1zM806 720h1v1h-1zM786 792h2v1h-2zM778 713h2v1h-2zM785 756h1v1h-1zM783 731h1v1h-1zM799 757h1v1h-1zM773 752h1v1h-1zM788 743h1v2h-1zM769 719h2v1h-2zM786 746h1v1h-1zM807 777h2v1h-2zM804 750h1v2h-1zM774 772h1v1h-1zM807 782h1v1h-1zM800 733h1v2h-1zM796 752h1v2h-1zM791 743h1v1h-1zM783 727h1v1h-1zM773 743h1v1h-1zM796 771h1v1h-1zM778 770h1v2h-1zM791 735h1v1h-1zM805 749h1v2h-1zM772 750h2v1h-2zM793 775h1v1h-1zM788 723h2v1h-2zM789 718h2v1h-2zM790 755h1v1h-1zM790 752h1v1h-1zM784 774h1v2h-1zM800 718h1v1h-1zM794 788h2v1h-2zM778 793h1v1h-1zM788 756h1v1h-1zM771 787h2v1h-2zM806 745h2v1h-2zM796 728h1v1h-1zM770 791h1v1h-1zM790 721h1v1h-1zM794 706h2v1h-2zM788 758h2v1h-2zM770 724h1v1h-1zM774 704h2v1h-2zM807 794h1v1h-1zM803 784h1v2h-1zM806 748h1v1h-1zM771 737h1v1h-1zM775 723h1v2h-1zM801 746h1v1h-1zM782 720h1v1h-1zM774 727h1v2h-1zM804 740h1v1h-1zM787 709h1v1h-1zM780 718h1v2h-1zM777 746h1v2h-1zM781 795h1v1h-1zM779 732h1v1h-1zM805 778h1v1h-1zM800 765h1v1h-1zM777 730h1v2h-1zM806 720h1v1h-1zM788 770h1v1h-1zM789 770h1v1h-1zM802 725h2v1h-2zM780 778h1v1h-1zM800 760h2v1h-2zM786 780h1v2h-1zM788 784h1v1h-1zM769 794h2v1h-2zM783 727h1v2h-1zM786 728h2v1h-2zM783 727h1v1h-1zM780 753h1v1h-1zM791 724h2v1h-2zM779 792h1v1h-1zM807 752h2v1h-2zM784 782h1v1h-1zM805 769h1v1h-1zM769 760h1v2h-1zM795 793h2v1h-2zM773 720h1v1h-1zM804 729h1v1h-1zM777 783h1v1h-1zM782 752h1v1h-1zM798 721h1v2h-1zM797 784h1v1h-1zM769 790h1v2h-1zM788 773h1v1h-1zM775 709h1v1h-1zM804 799h1v1h-1zM790 794h2v1h-2zM778 771h1v1h-1zM799 739h1v2h-1zM771 757h1v2h-1zM801 724h1v1h-1zM776 704h2v1h-2zM772 747h1v1h-1zM795 740h2v1h-2zM796 781h1v1h-1zM772 781h1v1h-1zM769 705h1v2h-1zM780 754h1v1h-1zM789 747h2v1h-2zM784 746h2v1h-2zM796 727h1v1h-1zM781 767h1v1h-1zM789 759h1v1h-1zM795 734h1v1h-1zM801 738h1v1h-1zM801 779h1v2h-1zM786 729h1v1h-1zM781 764h1v1h-1zM788 748h1v1h-1zM806 767h1v1h-1zM798 778h1v1h-1zM801 753h1v1h-1zM786 770h1v1h-1zM796 773h1v1h-1zM791 783h1v1h-1zM800 786h1v1h-1zM769 707h2v1h-2zM798 783h1v1h-1zM794 714h1v1h-1zM788 727h2v1h-2zM777 757h1v1h-1zM781 743h1v2h-1zM777 761h1v1h-1zM782 789h1v2h-1zM807 783h1v1h-1zM771 772h1v1h-1zM802 788h1v1h-1zM801 791h1v1h-1zM794 755h1v2h-1zM771 775h1v1h-1zM770 727h1v1h-1zM799 711h1v1h-1zM792 790h1v1h-1zM783 714h1v1h-1zM799 723h1v1h-1zM781 769h1v1h-1zM799 783h1v1h-1zM802 776h1v1h-1zM801 732h1v2h-1zM776 706h1v2h-1zM779 762h1v1h-1zM794 758h2v1h-2zM805 732h1v1h-1zM781 776h1v2h-1zM780 726h1v2h-1zM803 800h1v1h-1zM780 760h1v1h-1zM805 729h1v1h-1zM773 787h1v1h-1zM801 780h1v1h-1zM793 753h2v1h-2zM800 795h1v1h-1zM796 735h1v1h-1zM789 789h1v1h-1zM805 777h1v1h-1zM773 719h2v1h-2zM803 778h1v2h-1zM778 775h2v1h-2zM770 781h1v1h-1zM795 800h1v1h-1zM770 795h1v2h-1zM785 774h1v2h-1zM770 734h1v1h-1zM797 735h1v1h-1zM799 715h1v1h-1zM804 738h1v2h-1zM803 761h1v2h-1zM770 719h1v1h-1zM775 749h1v2h-1zM786 774h1v2h-1zM794 799h2v1h-2zM794 725h1v1h-1zM798 791h2v1h-2zM771 755h1v1h-1zM774 739h1v2h-1zM771 796h1v1h-1zM791 746h1v1h-1zM801 769h1v1h-1zM777 726h1v2h-1zM806 731h1v1h-1zM806 754h2v1h-2zM790 748h2v1h-2zM792 712h2v1h-2zM770 749h2v1h-2zM774 719h1v1h-1zM779 796h1v2h-1zM783 728h2v1h-2zM798 734h1v1h-1zM773 795h1v1h-1zM777 777h1v1h-1zM771 770h2v1h-2zM773 784h1v1h-1zM788 798h1v2h-1zM782 765h1v1h-1zM780 764h1v1h-1zM785 721h1v1h-1zM793 770h1v1h-1zM802 745h1v1h-1zM781 723h1v1h-1zM784 792h1v2h-1zM787 768h2v1h-2zM788 725h1v1h-1zM783 774h2v1h-2zM771 741h2v1h-2zM770 753h1v1h-1zM773 754h1v1h-1zM790 772h1v1h-1zM772 789h1v1h-1zM804 784h2v1h-2zM802 739h1v1h-1zM779 788h1v1h-1zM801 790h1v2h-1zM786 729h1v1h-1zM798 782h1v1h-1zM791 762h1v2h-1zM786 774h1v1h-1zM795 791h1v2h-1zM783 727h1v1h-1zM779 775h1v2h-1zM772 702h1v1h-1zM805 748h1v1h-1zM790 720h1v1h-1zM785 743h1v1h-1zM805 798h2v1h-2zM805 716h1v1h-1zM771 739h1v1h-1zM798 759h1v1h-1zM777 765h1v2h-1zM780 798h1v2h-1zM783 771h1v1h-1zM799 741h1v1h-1zM772 738h2v1h-2zM795 786h2v1h-2zM778 731h2v1h-2zM770 718h1v1h-1zM770 774h2v1h-2zM787 734h2v1h-2zM771 729h1v1h-1zM785 702h1v1h-1zM780 770h1v1h-1zM784 744h2v1h-2zM790 742h1v1h-1zM796 793h1v1h-1zM774 773h1v1h-1zM779 773h1v1h-1zM805 724h1v1h-1zM794 777h1v1h-1zM806 773h1v1h-1zM797 751h1v1h-1zM780 772h1v2h-1zM784 761h1v2h-1zM799 741h2v1h-2zM772 777h1v1h-1zM798 790h1v1h-1zM775 779h1v1h-1zM787 713h1v1h-1zM773 710h2v1h-2zM788 795h1v2h-1zM774 759h1v1h-1zM775 759h1v1h-1zM805 730h1v2h-1zM776 778h1v1h-1zM794 772h1v1h-1zM780 766h2v1h-2zM788 766h1v2h-1zM777 785h1v2h-1zM805 801h1v1h-1zM788 776h1v2h-1zM791 744h1v1h-1zM799 766h1v1h-1zM782 754h1v2h-1zM802 791h2v1h-2zM776 794h1v1h-1zM805 773h1v1h-1zM769 758h2v1h-2zM776 746h1v1h-1zM780 765h1v1h-1zM772 712h1v1h-1zM776 744h1v1h-1zM793 774h1v1h-1zM806 752h1v1h-1zM804 787h1v1h-1zM785 794h1v1h-1zM775 714h1v1h-1zM798 707h1v1h-1zM781 703h1v1h-1zM785 777h1v1h-1zM770 727h2v1h-2zM785 721h1v1h-1zM781 715h1v1h-1zM788 799h1v1h-1zM771 776h1v1h-1zM775 716h1v1h-1zM796 791h1v1h-1zM780 721h1v1h-1zM801 739h1v1h-1zM800 706h1v1h-1zM795 753h2v1h-2zM772 744h1v1h-1zM783 795h2v1h-2zM801 758h2v1h-2zM791 728h2v1h-2zM803 787h1v1h-1zM771 730h1v1h-1zM785 713h1v1h-1zM771 780h1v1h-1zM800 778h1v1h-1zM799 758h1v1h-1zM798 767h2v1h-2zM806 739h2v1h-2zM806 768h1v1h-1zM780 746h1v1h-1zM769 753h1v1h-1zM785 704h1v1h-1zM802 719h1v2h-1zM790 742h1v1h-1zM795 773h1v1h-1zM773 722h1v1h-1zM790 756h1v1h-1zM791 715h2v1h-2zM787 787h1v1h-1zM785 705h1v1h-1zM773 786h1v1h-1zM778 742h1v1h-1zM800 792h1v2h-1zM790 796h1v1h-1zM807 749h1v1h-1zM791 722h2v1h-2zM795 713h2v1h-2zM788 712h1v1h-1zM785 780h1v2h-1zM803 741h1v1h-1zM803 787h1v1h-1zM770 727h2v1h-2zM774 755h2v1h-2zM797 733h1v1h-1zM784 779h1v1h-1zM806 706h2v1h-2zM781 756h1v2h-1zM774 751h1v1h-1zM784 758h2v1h-2zM786 746h1v1h-1zM807 798h2v1h-2zM776 774h1v1h-1zM781 779h2v1h-2zM794 721h2v1h-2zM785 740h2v1h-2zM788 716h1v1h-1zM806 774h1v1h-1zM781 724h1v1h-1zM805 736h1v1h-1zM776 766h1v1h-1zM786 711h1v1h-1zM806 702h1v1h-1zM778 781h2v1h-2zM774 748h1v2h-1zM803 706h1v1h-1zM779 728h1v1h-1zM788 776h2v1h-2zM780 790h2v1h-2zM779 761h2v1h-2zM792 797h1v1h-1zM796 710h1v1h-1zM785 737h1v2h-1zM790 801h1v1h-1zM794 714h1v1h-1zM806 774h1v1h-1zM797 779h1v1h-1zM795 720h1v2h-1zM780 771h1v1h-1zM769 717h1v1h-1zM784 789h1v1h-1zM793 737h2v1h-2zM789 777h1v1h-1zM785 732h1v1h-1zM793 706h2v1h-2zM807 717h1v1h-1zM787 743h1v2h-1zM797 727h1v2h-1zM794 756h2v1h-2zM791 771h1v1h-1zM776 769h1v1h-1zM790 730h1v1h-1zM790 753h1v1h-1zM786 717h1v2h-1zM790 797h1v1h-1zM783 729h1v1h-1zM793 783h1v2h-1zM801 791h1v1h-1zM799 758h2v1h-2zM807 787h1v1h-1zM803 793h1v1h-1zM801 724h1v1h-1zM803 799h1v2h-1zM807 767h1v1h-1zM779 785h1v1h-1zM785 714h1v1h-1zM805 704h1v1h-1zM779 748h2v1h-2zM770 770h1v1h-1zM794 801h1v1h-1zM797 782h1v1h-1zM773 749h1v1h-1zM773 729h1v1h-1zM779 735h1v1h-1zM803 705h2v1h-2zM792 727h1v1h-1zM769 735h1v1h-1zM776 728h1v1h-1zM776 788h2v1h-2zM779 747h1v1h-1zM789 796h1v1h-1zM770 742h1v1h-1zM799 705h1v1h-1zM793 702h2v1h-2zM776 747h1v1h-1zM792 724h1v1h-1zM795 755h1v1h-1zM807 726h1v1h-1zM792 787h1v1h-1zM770 728h2v1h-2zM781 783h1v2h-1zM780 733h2v1h-2zM806 712h1v1h-1zM804 722h1v2h-1zM772 796h1v1h-1zM788 704h2v1h-2zM771 724h1v1h-1zM770 746h1v1h-1zM802 788h1v1h-1zM788 797h1v1h-1zM784 798h1v1h-1zM778 791h1v2h-1zM805 719h1v2h-1zM778 715h1v1h-1zM807 765h1v2h-1zM774 794h1v2h-1zM798 748h1v1h-1zM771 715h1v2h-1zM788 737h1v1h-1zM803 762h1v2h-1zM803 735h1v1h-1zM790 732h1v1h-1zM784 726h1v2h-1zM772 758h1v1h-1zM790 783h1v1h-1zM772 766h1v1h-1zM787 723h1v1h-1zM771 787h2v1h-2zM789 744h1v1h-1zM801 765h1v1h-1zM803 770h1v1h-1zM780 794h2v1h-2zM776 743h1v1h-1zM782 794h1v1h-1zM770 721h1v1h-1zM776 716h2v1h-2zM773 781h1v1h-1zM805 704h1v2h-1zM784 736h1v1h-1zM807 751h1v1h-1zM780 771h1v1h-1zM781 739h2v1h-2zM776 738h1v1h-1zM802 788h2v1h-2zM772 777h2v1h-2zM777 731h2v1h-2zM790 755h1v2h-1zM803 786h1v1h-1zM772 738h1v1h-1zM797 762h1v2h-1zM775 754h1v1h-1zM770 762h2v1h-2zM774 797h1v1h-1zM777 739h1v1h-1zM798 774h1v1h-1zM774 713h1v1h-1z"/><line x1="768.5" y1="344" x2="768.5" y2="443" stroke-width="1.4" /><line x1="809" y1="344" x2="809" y2="443" stroke-width="1.8" /><line x1="768.5" y1="702" x2="768.5" y2="802" stroke-width="1.4" /><line x1="809" y1="702" x2="809" y2="802" stroke-width="1.8" /><path d="M662 447 Q662 444 665 444 H809 V702 H665 Q662 702 662 699 Z" stroke-width="2" fill="#fff"/><line x1="768.5" y1="444" x2="768.5" y2="702" stroke-width="1.4" /><path d="M669.7 444 V438.5 Q669.7 436.7 671.5 436.7 H757.4 Q759.2 436.7 759.2 438.5 V444" stroke-width="1.8" fill="#fff"/><rect x="692.6" y="428.8" width="43.70" height="7.90" rx="0" stroke-width="1.6" fill="#fff"/><line x1="693" y1="431.5" x2="736" y2="431.5" stroke-width="1" /><line x1="693" y1="434" x2="736" y2="434" stroke-width="1" /><rect x="689.6" y="403.5" width="49.70" height="25.30" rx="0" stroke-width="2.2" fill="#fff"/><path d="M700.5 404.5 V428 M729 404.5 V428 M700.5 407 Q715 402 729 407 M700.5 425 Q715 430 729 425" stroke-width="1.6" fill="none"/><line x1="715.2" y1="436.7" x2="715.2" y2="455" stroke-width="1.8" /><line x1="715.2" y1="540" x2="715.2" y2="702" stroke-width="1.6" /><circle cx="714.5" cy="495.4" r="44.5" stroke-width="1.7" fill="#fff"/><circle cx="714.5" cy="495.4" r="34" stroke-width="13.6"/><circle cx="714.4" cy="495.4" r="22.5" class="f"/><circle cx="713.5" cy="494.2" r="18.9" fill="#fff" stroke="none"/><circle cx="714.4" cy="495.4" r="14.1" stroke-width="2"/><rect x="696.2" y="552.7" width="11.30" height="41.60" rx="0" stroke-width="1.8" /><line x1="699.6" y1="553" x2="699.6" y2="594" stroke-width="1.2" /><path d="M662 559.6 H679.3 V646.6 H662 M662 583.8 H679.3 M662 622.8 H679.3" stroke-width="1.8" fill="none"/><path d="M664.6 702 V707.5 Q664.6 709.6 666.6 709.6 H761.4 Q763.4 709.6 763.4 707.5 V702" stroke-width="2.2" fill="none"/><line x1="666" y1="709" x2="762" y2="709" stroke-width="2.4" /><line x1="686.8" y1="709.6" x2="686.8" y2="776.4" stroke-width="1.3" /><line x1="742.3" y1="709.6" x2="742.3" y2="776.4" stroke-width="1.3" /><path d="M714.6 749.3 L719.1 763.8 L716.8000000000001 763.8 L716.8000000000001 782.7 L712.4 782.7 L712.4 763.8 L710.1 763.8 Z" stroke="#c01018" stroke-width="2.2" fill="none"/><path d="M709.8 793.5V807.3M717.2 793.5V807.3M709.8 800.4H717.2" stroke="#c01018" stroke-width="2.2" fill="none"/><path fill="#f8f8f8" stroke="none" d="M633 1082 H768 V1109 H662 V1375 H768 V1399 H633 Z"/><path fill="#222" stroke="none" d="M650 1102h2v1h-2zM665 1097h1v1h-1zM660 1097h1v1h-1zM683 1106h2v1h-2zM767 1091h1v1h-1zM643 1084h1v1h-1zM742 1101h1v2h-1zM765 1094h1v1h-1zM760 1083h1v1h-1zM713 1095h1v1h-1zM746 1093h1v2h-1zM692 1095h1v1h-1zM715 1094h1v1h-1zM710 1097h2v1h-2zM696 1103h1v1h-1zM688 1089h1v1h-1zM755 1104h1v1h-1zM758 1106h1v2h-1zM666 1082h1v1h-1zM689 1100h1v1h-1zM694 1102h1v2h-1zM657 1097h2v1h-2zM662 1087h1v1h-1zM739 1091h2v1h-2zM711 1104h1v1h-1zM719 1099h1v1h-1zM657 1092h1v1h-1zM749 1095h1v2h-1zM652 1084h1v1h-1zM657 1087h2v1h-2zM731 1098h1v2h-1zM672 1095h1v1h-1zM710 1097h1v1h-1zM749 1098h1v1h-1zM655 1106h1v1h-1zM744 1104h1v1h-1zM720 1098h1v1h-1zM693 1091h1v1h-1zM674 1088h1v1h-1zM761 1105h1v1h-1zM767 1089h2v1h-2zM742 1108h1v1h-1zM654 1099h1v1h-1zM700 1083h2v1h-2zM663 1089h1v1h-1zM764 1103h2v1h-2zM712 1085h1v1h-1zM687 1103h1v1h-1zM705 1101h1v1h-1zM699 1102h1v1h-1zM750 1087h1v1h-1zM759 1108h1v2h-1zM661 1103h1v2h-1zM707 1102h1v1h-1zM725 1089h1v1h-1zM712 1095h1v1h-1zM647 1101h1v1h-1zM634 1108h2v1h-2zM697 1102h1v1h-1zM671 1104h1v1h-1zM648 1084h1v1h-1zM742 1107h1v1h-1zM683 1090h1v2h-1zM732 1097h1v2h-1zM714 1089h1v1h-1zM681 1089h1v1h-1zM660 1094h1v1h-1zM699 1105h1v1h-1zM680 1088h2v1h-2zM732 1084h2v1h-2zM650 1108h1v1h-1zM634 1082h2v1h-2zM678 1101h1v1h-1zM761 1096h1v2h-1zM680 1103h1v1h-1zM705 1100h1v1h-1zM709 1086h1v1h-1zM753 1106h1v2h-1zM687 1087h1v1h-1zM710 1083h1v1h-1zM751 1094h1v1h-1zM654 1090h2v1h-2zM652 1093h2v1h-2zM718 1085h1v2h-1zM636 1088h2v1h-2zM643 1086h1v1h-1zM704 1094h1v1h-1zM758 1089h1v1h-1zM648 1097h1v2h-1zM712 1092h1v1h-1zM666 1104h1v2h-1zM693 1095h1v1h-1zM682 1093h1v1h-1zM692 1099h1v1h-1zM714 1106h1v1h-1zM667 1094h1v1h-1zM652 1094h1v1h-1zM742 1089h2v1h-2zM705 1098h1v1h-1zM708 1093h1v1h-1zM723 1095h1v1h-1zM732 1093h1v1h-1zM666 1099h1v1h-1zM678 1103h1v1h-1zM661 1092h1v1h-1zM677 1093h1v1h-1zM759 1085h1v1h-1zM683 1082h1v2h-1zM745 1090h2v1h-2zM730 1085h1v2h-1zM756 1096h1v1h-1zM763 1101h1v1h-1zM654 1102h1v1h-1zM724 1098h1v1h-1zM719 1095h1v1h-1zM690 1097h1v1h-1zM649 1258h1v1h-1zM633 1233h1v2h-1zM637 1139h1v2h-1zM655 1245h1v1h-1zM643 1167h1v2h-1zM656 1151h1v1h-1zM655 1246h2v1h-2zM644 1353h1v2h-1zM659 1170h1v2h-1zM636 1152h1v1h-1zM647 1212h1v1h-1zM638 1386h1v1h-1zM644 1360h1v1h-1zM657 1393h1v2h-1zM642 1219h2v1h-2zM647 1124h1v1h-1zM637 1114h1v1h-1zM659 1243h2v1h-2zM641 1333h1v1h-1zM637 1111h1v1h-1zM650 1223h1v2h-1zM633 1178h2v1h-2zM655 1226h1v2h-1zM640 1218h1v1h-1zM659 1177h1v2h-1zM644 1274h1v1h-1zM643 1381h1v1h-1zM647 1190h1v1h-1zM641 1129h2v1h-2zM641 1301h1v1h-1zM650 1151h1v1h-1zM646 1295h1v1h-1zM660 1123h1v1h-1zM658 1150h1v1h-1zM643 1226h2v1h-2zM654 1354h1v2h-1zM642 1205h1v1h-1zM639 1194h1v1h-1zM638 1201h1v1h-1zM639 1264h1v1h-1zM639 1196h1v1h-1zM659 1220h1v1h-1zM650 1138h2v1h-2zM638 1299h1v1h-1zM652 1141h1v1h-1zM659 1202h1v1h-1zM636 1336h1v1h-1zM649 1255h1v2h-1zM642 1227h1v1h-1zM648 1337h1v1h-1zM641 1153h1v1h-1zM636 1218h1v1h-1zM653 1269h2v1h-2zM649 1149h1v1h-1zM643 1206h1v1h-1zM648 1365h1v1h-1zM648 1238h2v1h-2zM655 1359h1v1h-1zM637 1232h1v1h-1zM644 1236h1v2h-1zM648 1268h1v1h-1zM661 1147h2v1h-2zM645 1329h1v1h-1zM642 1158h1v1h-1zM640 1343h1v1h-1zM661 1286h1v1h-1zM661 1228h1v1h-1zM638 1125h1v1h-1zM633 1395h2v1h-2zM659 1320h1v1h-1zM647 1359h2v1h-2zM661 1395h1v1h-1zM652 1242h1v1h-1zM638 1365h2v1h-2zM643 1194h1v1h-1zM638 1115h2v1h-2zM636 1314h1v1h-1zM649 1241h1v1h-1zM643 1357h1v1h-1zM634 1213h1v1h-1zM637 1316h1v2h-1zM651 1328h1v1h-1zM638 1258h2v1h-2zM651 1127h1v2h-1zM646 1318h1v1h-1zM645 1204h1v1h-1zM641 1342h1v1h-1zM650 1142h1v1h-1zM658 1139h1v1h-1zM649 1385h2v1h-2zM648 1197h1v1h-1zM647 1125h1v1h-1zM654 1315h1v1h-1zM661 1204h2v1h-2zM651 1123h1v2h-1zM648 1265h1v1h-1zM639 1240h1v1h-1zM642 1284h1v1h-1zM659 1150h1v1h-1zM639 1377h1v1h-1zM651 1225h1v1h-1zM654 1262h1v1h-1zM638 1174h1v2h-1zM648 1250h2v1h-2zM646 1349h1v2h-1zM647 1176h1v1h-1zM634 1296h2v1h-2zM647 1326h1v1h-1zM644 1131h1v1h-1zM659 1235h2v1h-2zM654 1211h1v1h-1zM644 1389h2v1h-2zM660 1370h1v1h-1zM657 1170h2v1h-2zM651 1194h1v2h-1zM642 1267h1v1h-1zM648 1236h1v1h-1zM640 1178h1v1h-1zM657 1387h1v1h-1zM660 1247h1v1h-1zM661 1316h1v1h-1zM658 1320h2v1h-2zM660 1353h1v1h-1zM644 1334h1v2h-1zM635 1234h1v1h-1zM649 1176h1v1h-1zM639 1111h2v1h-2zM641 1328h1v1h-1zM644 1243h1v2h-1zM661 1163h1v1h-1zM660 1386h1v2h-1zM650 1122h1v1h-1zM643 1112h1v1h-1zM644 1204h1v1h-1zM638 1111h2v1h-2zM660 1187h1v1h-1zM642 1328h1v1h-1zM644 1372h1v1h-1zM640 1293h1v1h-1zM636 1351h1v2h-1zM636 1239h1v1h-1zM643 1175h1v1h-1zM638 1202h1v1h-1zM653 1300h1v1h-1zM646 1194h1v1h-1zM635 1152h1v1h-1zM653 1181h1v1h-1zM635 1166h2v1h-2zM656 1397h1v1h-1zM638 1240h2v1h-2zM636 1259h1v1h-1zM640 1275h1v1h-1zM650 1374h1v1h-1zM635 1300h1v1h-1zM637 1260h2v1h-2zM655 1286h1v1h-1zM654 1306h1v1h-1zM659 1132h1v1h-1zM639 1237h1v1h-1zM649 1200h1v1h-1zM658 1120h1v1h-1zM645 1298h1v1h-1zM641 1259h1v1h-1zM641 1398h1v2h-1zM655 1359h1v1h-1zM656 1369h1v1h-1zM638 1223h1v1h-1zM661 1119h1v2h-1zM649 1124h2v1h-2zM657 1342h1v1h-1zM644 1254h1v1h-1zM636 1238h1v1h-1zM661 1146h1v1h-1zM645 1342h1v1h-1zM642 1296h1v1h-1zM653 1374h1v1h-1zM639 1281h1v1h-1zM638 1305h1v1h-1zM641 1188h1v1h-1zM650 1166h1v1h-1zM656 1293h1v1h-1zM639 1158h1v1h-1zM640 1176h1v2h-1zM650 1341h1v1h-1zM657 1120h1v1h-1zM655 1148h1v2h-1zM646 1303h1v1h-1zM659 1398h1v1h-1zM637 1169h1v1h-1zM644 1396h2v1h-2zM653 1177h1v1h-1zM655 1230h1v1h-1zM640 1213h1v2h-1zM655 1199h1v1h-1zM644 1154h1v1h-1zM644 1372h1v1h-1zM636 1126h1v2h-1zM638 1166h1v1h-1zM647 1317h1v1h-1zM657 1165h1v1h-1zM644 1391h1v1h-1zM652 1149h1v1h-1zM642 1298h1v1h-1zM647 1251h1v1h-1zM659 1384h1v1h-1zM644 1228h1v1h-1zM645 1394h1v2h-1zM653 1207h1v1h-1zM653 1387h1v1h-1zM652 1300h2v1h-2zM659 1274h1v2h-1zM659 1363h2v1h-2zM658 1304h1v1h-1zM635 1301h1v2h-1zM636 1330h1v1h-1zM634 1353h1v1h-1zM645 1307h1v1h-1zM655 1222h1v2h-1zM644 1226h1v1h-1zM636 1211h1v1h-1zM636 1211h1v1h-1zM647 1261h1v2h-1zM645 1201h1v1h-1zM659 1164h1v1h-1zM657 1367h2v1h-2zM646 1278h1v2h-1zM651 1289h1v1h-1zM639 1211h1v1h-1zM659 1333h1v1h-1zM659 1123h1v1h-1zM645 1337h1v1h-1zM639 1283h2v1h-2zM651 1244h1v1h-1zM649 1131h1v1h-1zM647 1355h1v1h-1zM656 1381h1v1h-1zM634 1395h2v1h-2zM659 1172h1v1h-1zM640 1244h1v1h-1zM643 1206h2v1h-2zM639 1384h1v1h-1zM635 1113h1v1h-1zM634 1137h1v1h-1zM651 1232h1v1h-1zM647 1361h1v1h-1zM635 1230h1v1h-1zM654 1123h1v2h-1zM633 1196h1v1h-1zM657 1139h1v1h-1zM635 1266h1v2h-1zM639 1269h1v1h-1zM633 1156h1v2h-1zM635 1125h1v1h-1zM651 1140h1v1h-1zM639 1133h1v2h-1zM661 1122h1v1h-1zM649 1212h1v1h-1zM653 1383h1v1h-1zM642 1275h1v1h-1zM658 1115h1v2h-1zM660 1172h1v1h-1zM659 1135h1v2h-1zM639 1247h1v2h-1zM639 1386h1v2h-1zM634 1341h1v2h-1zM646 1369h1v2h-1zM644 1390h1v1h-1zM641 1283h1v1h-1zM654 1239h1v1h-1zM740 1398h1v1h-1zM767 1384h1v1h-1zM741 1376h1v1h-1zM761 1389h1v1h-1zM666 1388h1v1h-1zM708 1393h1v1h-1zM691 1394h1v1h-1zM749 1375h1v1h-1zM688 1375h1v1h-1zM729 1380h1v1h-1zM725 1376h2v1h-2zM757 1384h1v1h-1zM696 1386h1v1h-1zM763 1377h1v1h-1zM692 1387h2v1h-2zM690 1375h1v2h-1zM753 1394h1v1h-1zM697 1394h1v1h-1zM716 1385h1v1h-1zM704 1376h1v1h-1zM696 1381h1v1h-1zM746 1392h1v2h-1zM688 1387h1v2h-1zM714 1381h2v1h-2zM749 1379h1v2h-1zM721 1382h1v1h-1zM764 1378h2v1h-2zM730 1388h2v1h-2zM668 1378h2v1h-2zM727 1398h1v1h-1zM685 1378h1v1h-1zM670 1386h2v1h-2zM686 1391h1v1h-1zM757 1392h1v1h-1zM730 1394h1v1h-1zM677 1381h2v1h-2zM766 1384h1v1h-1zM668 1387h1v1h-1zM723 1389h2v1h-2zM676 1398h1v2h-1zM727 1391h1v1h-1zM705 1390h1v1h-1zM677 1377h1v1h-1zM763 1376h1v1h-1zM668 1388h1v1h-1zM735 1375h2v1h-2zM758 1381h1v1h-1zM726 1386h2v1h-2zM767 1391h1v1h-1zM763 1392h1v1h-1zM714 1377h1v1h-1zM727 1394h2v1h-2zM697 1394h2v1h-2zM712 1390h1v1h-1zM736 1390h1v1h-1zM712 1395h1v1h-1zM677 1394h1v1h-1zM673 1397h1v1h-1zM765 1392h1v1h-1zM688 1390h1v2h-1zM673 1382h1v1h-1zM680 1387h1v1h-1zM715 1379h1v1h-1zM704 1395h1v1h-1zM765 1394h1v1h-1zM761 1389h2v1h-2zM761 1378h1v1h-1zM732 1380h1v1h-1zM704 1395h1v1h-1zM668 1392h1v1h-1zM689 1381h1v1h-1zM696 1378h1v1h-1zM709 1388h1v1h-1zM729 1391h1v1h-1zM707 1390h1v1h-1zM677 1398h1v1h-1zM761 1377h1v1h-1zM760 1379h2v1h-2zM681 1377h1v1h-1zM740 1389h1v1h-1zM698 1378h1v1h-1z"/><path fill="#000" stroke="none" d="M806 1027h1v1h-1zM798 1058h1v2h-1zM798 1012h2v1h-2zM785 1078h1v1h-1zM798 1093h1v1h-1zM780 1038h1v1h-1zM805 1070h2v1h-2zM790 1013h1v2h-1zM803 1068h1v2h-1zM802 1069h1v1h-1zM789 1098h1v1h-1zM779 1015h1v1h-1zM771 1066h1v1h-1zM784 1074h1v1h-1zM774 1093h1v1h-1zM788 1058h1v1h-1zM787 1027h2v1h-2zM796 1032h1v2h-1zM795 1032h1v2h-1zM794 1013h1v2h-1zM771 1079h1v1h-1zM807 1047h2v1h-2zM795 1067h1v1h-1zM778 1032h1v1h-1zM787 1050h1v1h-1zM781 1075h1v2h-1zM786 1066h1v2h-1zM792 1065h1v2h-1zM795 1050h1v1h-1zM770 1097h2v1h-2zM796 1022h1v1h-1zM785 1011h1v1h-1zM790 1028h1v1h-1zM770 1096h1v1h-1zM788 1091h1v2h-1zM795 1045h1v1h-1zM779 1078h2v1h-2zM775 1102h1v1h-1zM797 1083h1v1h-1zM773 1052h1v1h-1zM796 1044h1v1h-1zM800 1096h1v1h-1zM769 1021h1v1h-1zM796 1065h1v1h-1zM807 1058h2v1h-2zM783 1019h1v1h-1zM776 1013h2v1h-2zM782 1074h1v1h-1zM798 1057h1v1h-1zM779 1030h1v1h-1zM782 1039h1v1h-1zM799 1099h1v2h-1zM775 1092h2v1h-2zM791 1012h1v1h-1zM779 1028h2v1h-2zM780 1044h2v1h-2zM801 1086h1v1h-1zM793 1022h1v1h-1zM778 1030h1v1h-1zM778 1019h1v1h-1zM780 1019h1v1h-1zM801 1101h1v1h-1zM803 1099h1v1h-1zM802 1036h1v2h-1zM800 1019h2v1h-2zM787 1087h1v2h-1zM779 1108h1v1h-1zM793 1025h1v1h-1zM779 1042h1v2h-1zM800 1016h1v1h-1zM806 1050h1v2h-1zM783 1076h1v1h-1zM805 1038h1v1h-1zM803 1044h1v1h-1zM786 1090h1v1h-1zM773 1011h1v1h-1zM778 1092h1v1h-1zM771 1032h1v2h-1zM804 1033h1v1h-1zM795 1050h2v1h-2zM774 1045h1v1h-1zM778 1093h2v1h-2zM775 1096h1v2h-1zM807 1044h2v1h-2zM769 1106h1v1h-1zM773 1024h1v1h-1zM780 1044h1v1h-1zM790 1054h1v1h-1zM779 1096h1v2h-1zM789 1089h1v1h-1zM796 1107h1v1h-1zM775 1060h1v2h-1zM771 1106h1v1h-1zM807 1070h1v1h-1zM804 1087h1v1h-1zM781 1100h1v1h-1zM791 1033h1v1h-1zM780 1107h1v2h-1zM772 1083h1v1h-1zM784 1106h1v1h-1zM769 1065h1v1h-1zM805 1044h1v2h-1zM782 1046h1v1h-1zM776 1091h1v1h-1zM786 1031h1v1h-1zM787 1011h2v1h-2zM779 1069h1v2h-1zM788 1050h1v1h-1zM777 1042h1v1h-1zM778 1035h1v1h-1zM786 1020h1v1h-1zM798 1087h1v1h-1zM799 1019h1v1h-1zM800 1097h1v1h-1zM787 1044h1v1h-1zM778 1070h1v1h-1zM798 1095h1v1h-1zM778 1026h2v1h-2zM794 1088h1v2h-1zM796 1107h1v2h-1zM801 1088h1v1h-1zM803 1023h2v1h-2zM773 1070h2v1h-2zM782 1094h1v1h-1zM780 1045h1v1h-1zM781 1074h1v1h-1zM791 1094h1v2h-1zM798 1094h1v1h-1zM775 1043h1v2h-1zM792 1038h1v1h-1zM777 1091h1v2h-1zM787 1026h1v1h-1zM790 1103h1v1h-1zM796 1031h1v1h-1zM783 1063h1v1h-1zM784 1032h1v1h-1zM781 1054h1v1h-1zM775 1098h1v1h-1zM792 1041h1v1h-1zM805 1074h1v2h-1zM793 1065h1v1h-1zM782 1076h1v1h-1zM775 1065h1v1h-1zM791 1054h1v1h-1zM793 1027h1v1h-1zM782 1071h1v1h-1zM805 1010h1v1h-1zM802 1041h2v1h-2zM769 1022h1v1h-1zM777 1026h1v1h-1zM800 1057h1v1h-1zM802 1013h1v1h-1zM778 1102h1v1h-1zM800 1024h1v1h-1zM778 1054h1v1h-1zM800 1067h1v2h-1zM792 1089h1v1h-1zM789 1067h1v2h-1zM787 1054h1v1h-1zM781 1047h1v1h-1zM790 1104h1v2h-1zM804 1066h1v1h-1zM799 1034h1v2h-1zM769 1088h1v1h-1zM791 1019h1v1h-1zM782 1104h1v1h-1zM791 1090h1v1h-1zM791 1048h1v1h-1zM800 1032h2v1h-2zM776 1056h1v1h-1zM801 1052h2v1h-2zM778 1087h1v2h-1zM791 1025h1v1h-1zM786 1043h1v1h-1zM784 1071h1v1h-1zM802 1048h1v2h-1zM802 1106h1v1h-1zM801 1045h1v1h-1zM776 1050h1v1h-1zM778 1082h1v1h-1zM794 1058h1v1h-1zM804 1069h1v2h-1zM795 1062h2v1h-2zM778 1054h2v1h-2zM787 1052h1v1h-1zM776 1052h1v1h-1zM790 1056h1v1h-1zM791 1023h1v1h-1zM801 1041h1v1h-1zM779 1102h1v2h-1zM792 1070h1v1h-1zM776 1070h1v1h-1zM797 1036h1v1h-1zM789 1024h1v2h-1zM782 1075h1v1h-1zM807 1079h1v2h-1zM771 1030h1v2h-1zM788 1032h1v2h-1zM769 1030h1v2h-1zM802 1057h1v1h-1zM801 1021h2v1h-2zM792 1020h1v1h-1zM783 1050h1v1h-1zM788 1017h1v2h-1zM806 1092h1v1h-1zM787 1084h1v1h-1zM805 1041h1v1h-1zM800 1028h1v1h-1zM804 1060h1v1h-1zM793 1079h1v2h-1zM774 1097h1v1h-1zM806 1083h1v2h-1zM773 1031h1v1h-1zM801 1049h2v1h-2zM795 1056h2v1h-2zM805 1051h1v2h-1zM782 1052h1v1h-1zM802 1024h1v1h-1zM801 1075h1v1h-1zM805 1018h1v1h-1zM786 1030h2v1h-2zM803 1080h1v1h-1zM792 1100h2v1h-2zM771 1057h1v2h-1zM804 1013h1v1h-1zM800 1061h1v1h-1zM789 1020h2v1h-2zM785 1016h1v1h-1zM795 1081h1v2h-1zM771 1011h1v1h-1zM801 1071h1v1h-1zM806 1024h1v1h-1zM772 1068h2v1h-2zM804 1059h1v1h-1zM783 1025h1v2h-1zM778 1055h1v1h-1zM787 1011h2v1h-2zM799 1058h1v1h-1zM796 1014h1v1h-1zM807 1048h1v2h-1zM778 1035h1v2h-1zM775 1065h2v1h-2zM805 1050h1v1h-1zM794 1023h1v2h-1zM771 1084h1v1h-1zM799 1072h1v1h-1zM806 1101h1v2h-1zM772 1055h1v1h-1zM802 1066h1v2h-1zM775 1095h1v1h-1zM803 1072h1v1h-1zM807 1058h1v1h-1zM803 1063h1v2h-1zM786 1028h1v1h-1zM774 1062h1v1h-1zM805 1028h1v1h-1zM775 1085h1v1h-1zM785 1017h1v1h-1zM785 1030h1v1h-1zM783 1077h1v2h-1zM786 1022h1v1h-1zM778 1044h1v1h-1zM804 1010h1v1h-1zM793 1037h1v1h-1zM774 1026h2v1h-2zM788 1108h1v2h-1zM788 1090h1v1h-1zM784 1083h1v1h-1zM791 1031h1v1h-1zM776 1081h1v1h-1zM775 1091h2v1h-2zM789 1066h1v1h-1zM782 1080h1v1h-1zM796 1050h1v1h-1zM795 1030h1v1h-1zM773 1057h1v1h-1zM787 1049h1v1h-1zM796 1090h1v1h-1zM778 1017h1v1h-1zM803 1080h1v2h-1zM798 1103h1v1h-1zM792 1064h1v1h-1zM784 1095h1v1h-1zM791 1071h1v1h-1zM797 1102h1v1h-1zM781 1017h1v1h-1zM771 1039h2v1h-2zM771 1051h2v1h-2zM783 1061h2v1h-2zM788 1036h1v1h-1zM773 1101h1v1h-1zM803 1041h1v1h-1zM801 1077h1v1h-1zM799 1048h1v1h-1zM785 1097h2v1h-2zM796 1017h1v1h-1zM806 1056h1v2h-1zM775 1059h1v2h-1zM777 1094h1v1h-1zM807 1010h1v2h-1zM769 1047h2v1h-2zM778 1032h1v2h-1zM772 1038h1v1h-1zM769 1027h1v2h-1zM803 1016h2v1h-2zM771 1062h1v1h-1zM790 1067h1v1h-1zM806 1018h1v1h-1zM772 1064h2v1h-2zM796 1044h1v1h-1zM798 1036h1v1h-1zM780 1057h2v1h-2zM782 1106h1v2h-1zM807 1069h1v1h-1zM793 1043h1v1h-1zM772 1038h1v1h-1zM787 1096h2v1h-2zM786 1107h1v1h-1zM773 1013h1v1h-1zM787 1062h1v1h-1zM794 1077h1v1h-1zM774 1106h1v1h-1zM772 1032h1v1h-1zM795 1025h1v1h-1zM792 1101h1v1h-1zM807 1065h1v1h-1zM791 1059h1v1h-1zM776 1058h1v1h-1zM774 1010h1v1h-1zM806 1068h1v2h-1zM799 1097h2v1h-2zM785 1015h1v1h-1zM798 1101h1v1h-1zM800 1056h1v1h-1zM784 1101h1v1h-1zM779 1102h1v1h-1zM793 1093h1v1h-1zM792 1025h1v1h-1zM782 1098h1v1h-1zM804 1032h1v2h-1zM805 1102h1v2h-1zM783 1066h1v2h-1zM772 1019h1v2h-1zM778 1099h1v2h-1zM805 1062h1v2h-1zM771 1091h1v1h-1zM786 1061h1v2h-1zM795 1047h1v2h-1zM804 1090h1v1h-1zM783 1105h1v2h-1zM802 1028h2v1h-2zM769 1102h1v1h-1zM773 1025h1v1h-1zM800 1061h1v1h-1zM804 1089h1v2h-1zM798 1010h1v2h-1zM802 1100h2v1h-2zM785 1104h1v1h-1zM805 1064h1v1h-1zM796 1045h1v1h-1zM793 1061h1v2h-1zM789 1073h1v1h-1zM779 1055h1v1h-1zM780 1078h1v1h-1zM806 1019h1v2h-1zM769 1091h1v1h-1zM800 1107h1v2h-1zM771 1015h1v1h-1zM804 1042h1v2h-1zM779 1070h1v1h-1zM803 1028h1v1h-1zM805 1063h1v1h-1zM773 1104h1v1h-1zM784 1105h1v2h-1zM791 1035h1v2h-1zM782 1038h1v1h-1zM805 1058h1v1h-1zM778 1087h1v1h-1zM772 1014h2v1h-2zM791 1054h1v1h-1zM781 1076h1v2h-1zM772 1101h1v1h-1zM776 1049h1v1h-1zM796 1073h1v1h-1zM806 1092h1v2h-1zM800 1106h1v1h-1zM805 1092h2v1h-2zM805 1018h1v2h-1zM788 1037h1v1h-1zM794 1080h1v2h-1zM804 1099h1v1h-1zM784 1040h1v1h-1zM790 1020h2v1h-2zM791 1059h1v2h-1zM788 1085h1v1h-1zM804 1040h1v1h-1zM803 1065h1v1h-1zM776 1036h2v1h-2zM803 1092h1v1h-1zM782 1048h1v1h-1zM806 1085h2v1h-2zM786 1080h2v1h-2zM781 1039h1v1h-1zM773 1033h1v2h-1zM805 1057h1v1h-1zM806 1089h2v1h-2zM806 1032h2v1h-2zM802 1085h1v1h-1zM794 1062h2v1h-2zM770 1033h2v1h-2zM796 1037h1v2h-1zM798 1022h1v1h-1zM785 1080h2v1h-2zM782 1074h1v1h-1zM795 1034h1v1h-1zM807 1017h1v1h-1zM806 1073h1v2h-1zM770 1089h1v1h-1zM803 1089h1v2h-1zM789 1062h1v1h-1zM789 1090h1v2h-1zM771 1055h1v1h-1zM776 1088h1v1h-1zM803 1082h1v1h-1zM804 1037h1v1h-1zM773 1059h1v1h-1zM797 1103h1v1h-1zM778 1010h1v1h-1zM791 1020h1v1h-1zM774 1105h1v1h-1zM771 1084h1v1h-1zM770 1068h1v1h-1zM796 1052h1v1h-1zM793 1043h1v1h-1zM771 1022h1v2h-1zM773 1063h1v2h-1zM769 1068h1v2h-1zM779 1080h1v1h-1zM783 1054h1v1h-1zM791 1025h1v2h-1zM796 1015h1v1h-1zM774 1038h1v1h-1zM771 1033h1v1h-1zM804 1058h1v1h-1zM779 1027h1v1h-1zM783 1049h1v2h-1zM797 1022h1v1h-1zM776 1048h2v1h-2zM772 1078h2v1h-2zM789 1083h1v1h-1zM777 1104h2v1h-2zM792 1038h1v2h-1zM796 1010h1v1h-1zM786 1086h2v1h-2zM787 1074h1v2h-1zM778 1050h1v1h-1zM802 1079h2v1h-2zM771 1106h1v1h-1zM781 1071h1v1h-1zM796 1064h1v2h-1zM775 1104h1v2h-1zM805 1036h1v2h-1zM795 1044h1v1h-1zM785 1020h1v1h-1zM773 1064h1v2h-1zM771 1073h1v1h-1zM801 1075h2v1h-2zM784 1070h1v1h-1zM791 1016h1v1h-1zM785 1101h1v1h-1zM782 1035h1v2h-1zM782 1093h1v2h-1zM788 1016h1v1h-1zM779 1068h1v1h-1zM770 1048h2v1h-2zM778 1077h1v1h-1zM788 1023h1v2h-1zM782 1089h1v2h-1zM778 1096h2v1h-2zM807 1106h2v1h-2zM769 1106h1v1h-1zM785 1086h1v2h-1zM799 1023h1v1h-1zM776 1097h1v1h-1zM800 1035h1v2h-1zM799 1105h1v1h-1zM802 1046h1v1h-1zM787 1084h1v2h-1zM802 1023h1v1h-1zM790 1025h1v1h-1zM785 1101h1v1h-1zM774 1089h2v1h-2zM805 1040h1v1h-1zM776 1074h1v1h-1zM801 1017h2v1h-2zM778 1097h2v1h-2zM771 1071h1v1h-1zM807 1066h1v2h-1zM800 1094h1v1h-1zM770 1046h1v1h-1zM790 1031h1v1h-1zM794 1053h1v2h-1zM788 1031h1v1h-1zM772 1045h2v1h-2zM773 1022h1v2h-1zM773 1084h1v1h-1zM777 1092h1v1h-1zM793 1035h1v2h-1zM779 1027h1v1h-1zM807 1071h1v2h-1zM789 1014h1v1h-1zM785 1033h1v1h-1zM769 1090h2v1h-2zM780 1039h1v1h-1zM807 1016h1v1h-1zM800 1050h1v1h-1zM802 1032h1v1h-1zM787 1034h1v1h-1zM803 1044h1v1h-1zM803 1096h1v2h-1zM806 1076h1v2h-1zM794 1049h1v1h-1zM793 1066h1v1h-1zM771 1050h1v1h-1zM797 1065h1v1h-1zM786 1069h1v1h-1zM792 1013h2v1h-2zM770 1078h1v1h-1zM800 1096h1v1h-1zM771 1077h1v1h-1zM802 1012h2v1h-2zM780 1017h2v1h-2zM788 1100h2v1h-2zM796 1035h1v2h-1zM774 1075h1v1h-1zM795 1050h1v2h-1zM776 1046h2v1h-2zM804 1073h1v1h-1zM769 1089h1v2h-1zM795 1016h1v1h-1zM777 1097h2v1h-2zM803 1105h1v1h-1zM793 1079h1v1h-1zM775 1099h1v1h-1zM801 1034h1v1h-1zM799 1100h1v2h-1zM779 1040h1v1h-1zM772 1035h1v1h-1zM786 1095h1v2h-1zM797 1031h1v1h-1zM804 1037h2v1h-2zM801 1017h1v1h-1zM780 1066h1v1h-1zM780 1080h1v1h-1zM799 1075h1v2h-1zM797 1037h1v1h-1zM806 1011h1v2h-1zM783 1077h1v1h-1zM775 1051h1v1h-1zM789 1060h1v1h-1zM770 1034h1v1h-1zM777 1032h1v1h-1zM794 1075h2v1h-2zM782 1101h2v1h-2zM791 1096h1v1h-1zM799 1060h1v1h-1zM799 1074h1v1h-1zM788 1108h1v2h-1zM786 1098h2v1h-2zM771 1014h1v1h-1zM782 1038h1v1h-1zM782 1027h1v1h-1zM802 1098h1v1h-1zM806 1016h1v1h-1zM791 1096h1v1h-1zM790 1055h1v1h-1zM801 1051h1v1h-1zM793 1075h1v2h-1zM803 1043h1v1h-1zM806 1108h1v1h-1zM795 1037h1v1h-1zM787 1052h1v1h-1zM803 1042h1v1h-1zM788 1104h1v1h-1zM802 1053h2v1h-2zM780 1084h1v1h-1zM770 1057h1v1h-1zM805 1096h1v1h-1zM804 1056h1v1h-1zM777 1067h2v1h-2zM773 1053h1v1h-1zM794 1015h1v1h-1zM772 1059h2v1h-2zM800 1042h2v1h-2zM773 1096h2v1h-2zM772 1063h2v1h-2zM806 1012h2v1h-2zM793 1059h1v1h-1zM778 1023h1v1h-1zM782 1089h1v2h-1zM769 1104h1v1h-1zM789 1071h1v1h-1zM786 1041h1v1h-1zM799 1059h1v2h-1zM803 1020h1v2h-1zM799 1056h1v2h-1zM770 1060h1v1h-1zM786 1045h1v1h-1zM775 1058h1v1h-1zM792 1087h2v1h-2zM795 1056h1v2h-1zM775 1068h1v1h-1zM775 1069h1v1h-1zM787 1060h2v1h-2zM793 1021h2v1h-2zM798 1098h1v1h-1zM781 1047h2v1h-2zM806 1029h1v2h-1zM777 1107h1v1h-1zM800 1054h1v1h-1zM782 1020h1v2h-1zM779 1025h1v1h-1zM787 1033h1v1h-1zM788 1085h2v1h-2zM804 1036h1v1h-1zM782 1053h2v1h-2zM790 1042h1v1h-1zM799 1066h1v2h-1zM796 1075h1v1h-1zM797 1059h1v1h-1zM802 1106h1v1h-1zM776 1085h1v1h-1zM806 1097h1v1h-1zM777 1045h1v1h-1zM789 1031h1v1h-1zM786 1055h1v1h-1zM786 1038h1v2h-1zM797 1100h1v1h-1zM789 1078h1v1h-1zM795 1029h1v1h-1zM800 1089h1v1h-1zM793 1052h1v1h-1zM796 1101h1v1h-1zM790 1081h2v1h-2zM785 1055h1v1h-1zM791 1102h1v1h-1zM774 1026h1v1h-1zM781 1059h1v1h-1zM783 1092h1v2h-1zM785 1071h1v1h-1zM781 1086h1v1h-1zM782 1094h1v2h-1zM805 1108h2v1h-2zM773 1081h1v2h-1zM802 1028h1v1h-1zM800 1094h1v1h-1zM771 1021h1v1h-1zM775 1040h1v1h-1zM807 1075h1v1h-1zM776 1106h1v1h-1zM801 1096h1v1h-1zM772 1097h1v1h-1zM798 1103h1v1h-1zM799 1018h1v1h-1zM788 1095h1v1h-1zM773 1081h1v1h-1zM806 1107h1v2h-1zM780 1035h1v1h-1zM788 1017h1v1h-1zM785 1028h1v1h-1zM774 1074h1v1h-1zM793 1028h1v1h-1zM800 1104h1v1h-1zM773 1061h1v2h-1zM772 1034h1v1h-1zM776 1076h1v1h-1zM800 1059h1v1h-1zM784 1051h1v1h-1zM769 1067h1v1h-1zM771 1015h1v2h-1zM804 1045h2v1h-2zM796 1078h1v1h-1zM777 1049h2v1h-2zM793 1011h2v1h-2zM777 1106h1v2h-1zM773 1106h1v1h-1zM788 1074h2v1h-2zM772 1069h1v1h-1zM769 1056h1v2h-1zM801 1037h1v1h-1zM793 1078h1v1h-1zM773 1095h1v1h-1zM777 1080h1v2h-1zM807 1096h2v1h-2zM777 1388h1v1h-1zM787 1418h1v2h-1zM778 1373h1v1h-1zM784 1411h1v1h-1zM769 1445h1v1h-1zM774 1372h1v1h-1zM783 1389h1v1h-1zM805 1387h1v1h-1zM769 1378h1v1h-1zM786 1461h1v1h-1zM788 1376h1v1h-1zM777 1372h1v1h-1zM795 1433h1v1h-1zM805 1390h1v1h-1zM803 1398h1v1h-1zM805 1411h2v1h-2zM787 1459h1v1h-1zM771 1383h1v2h-1zM798 1381h1v1h-1zM788 1412h1v1h-1zM784 1411h2v1h-2zM784 1451h2v1h-2zM791 1375h1v2h-1zM778 1446h1v1h-1zM789 1445h1v1h-1zM799 1426h1v1h-1zM784 1425h1v2h-1zM791 1401h1v1h-1zM786 1418h1v1h-1zM772 1425h2v1h-2zM792 1384h1v1h-1zM787 1396h1v1h-1zM789 1379h1v1h-1zM787 1433h1v1h-1zM776 1368h1v2h-1zM799 1456h1v1h-1zM788 1408h1v2h-1zM780 1448h1v2h-1zM787 1466h2v1h-2zM783 1439h1v1h-1zM794 1412h1v1h-1zM807 1402h1v1h-1zM779 1458h1v2h-1zM784 1449h2v1h-2zM783 1438h2v1h-2zM770 1405h1v1h-1zM790 1404h2v1h-2zM794 1401h2v1h-2zM805 1400h1v1h-1zM804 1394h2v1h-2zM780 1419h1v1h-1zM775 1443h1v2h-1zM770 1435h1v1h-1zM772 1445h2v1h-2zM785 1422h1v1h-1zM805 1404h1v1h-1zM805 1396h1v1h-1zM804 1411h2v1h-2zM773 1377h1v2h-1zM780 1459h1v1h-1zM785 1420h1v1h-1zM807 1426h1v1h-1zM799 1425h1v1h-1zM790 1438h1v1h-1zM788 1372h1v2h-1zM775 1400h1v1h-1zM781 1406h1v2h-1zM806 1415h1v1h-1zM791 1368h2v1h-2zM794 1374h1v2h-1zM779 1425h1v1h-1zM793 1454h1v1h-1zM805 1426h2v1h-2zM793 1384h1v1h-1zM797 1431h1v1h-1zM769 1392h1v1h-1zM784 1464h1v1h-1zM790 1376h2v1h-2zM805 1396h1v2h-1zM784 1459h1v1h-1zM802 1379h1v1h-1zM787 1384h1v1h-1zM792 1454h1v1h-1zM800 1444h1v1h-1zM804 1416h1v1h-1zM805 1407h1v1h-1zM773 1379h1v2h-1zM792 1391h1v1h-1zM786 1382h2v1h-2zM770 1375h1v1h-1zM785 1397h1v1h-1zM796 1441h2v1h-2zM783 1398h1v2h-1zM781 1389h1v2h-1zM787 1403h1v1h-1zM792 1397h1v2h-1zM769 1448h2v1h-2zM805 1439h1v1h-1zM770 1415h1v1h-1zM793 1441h2v1h-2zM780 1374h2v1h-2zM800 1369h1v2h-1zM769 1459h1v1h-1zM770 1401h1v1h-1zM791 1384h1v1h-1zM796 1411h1v2h-1zM783 1392h1v1h-1zM791 1426h1v1h-1zM775 1414h1v2h-1zM784 1391h1v1h-1zM774 1418h1v1h-1zM800 1398h1v1h-1zM769 1387h1v2h-1zM784 1406h1v1h-1zM797 1453h1v1h-1zM782 1451h1v1h-1zM785 1441h1v1h-1zM779 1462h1v1h-1zM801 1406h1v1h-1zM788 1418h2v1h-2zM783 1466h1v1h-1zM792 1381h1v1h-1zM802 1464h1v1h-1zM790 1386h1v1h-1zM774 1416h1v1h-1zM769 1446h1v2h-1zM793 1467h1v1h-1zM793 1400h1v1h-1zM769 1397h1v1h-1zM770 1460h1v2h-1zM788 1403h2v1h-2zM785 1371h1v1h-1zM771 1401h1v1h-1zM794 1375h1v1h-1zM783 1395h1v2h-1zM786 1403h1v1h-1zM805 1439h1v1h-1zM806 1454h2v1h-2zM776 1448h1v1h-1zM788 1440h1v1h-1zM803 1395h1v2h-1zM777 1462h1v2h-1zM777 1375h2v1h-2zM792 1453h1v1h-1zM796 1466h1v1h-1zM795 1454h1v1h-1zM804 1456h1v2h-1zM777 1411h1v1h-1zM807 1398h1v1h-1zM799 1436h1v1h-1zM771 1372h1v2h-1zM773 1435h1v1h-1zM777 1390h1v1h-1zM799 1399h1v1h-1zM778 1413h2v1h-2zM792 1459h2v1h-2zM770 1435h2v1h-2zM774 1443h2v1h-2zM784 1426h1v1h-1zM776 1458h1v2h-1zM784 1389h1v2h-1zM806 1408h1v1h-1zM775 1399h1v1h-1zM788 1427h1v1h-1zM787 1404h1v1h-1zM793 1373h1v1h-1zM770 1437h1v2h-1zM801 1385h1v1h-1zM772 1463h1v2h-1zM789 1440h1v1h-1zM805 1433h1v1h-1zM776 1384h2v1h-2zM775 1436h1v1h-1zM792 1436h2v1h-2zM777 1410h1v1h-1zM779 1369h1v1h-1zM798 1401h2v1h-2zM805 1464h1v1h-1zM793 1373h1v1h-1zM795 1395h1v1h-1zM776 1442h2v1h-2zM770 1399h1v1h-1zM802 1373h1v1h-1zM777 1409h1v1h-1zM795 1395h2v1h-2zM779 1465h2v1h-2zM771 1427h1v1h-1zM791 1388h1v2h-1zM784 1371h2v1h-2zM796 1412h1v2h-1zM774 1379h1v1h-1zM776 1397h1v2h-1zM773 1389h1v1h-1zM772 1457h1v1h-1zM792 1389h1v1h-1zM807 1392h1v1h-1zM805 1456h1v1h-1zM795 1390h1v1h-1zM770 1401h1v1h-1zM776 1385h1v1h-1zM773 1454h2v1h-2zM771 1440h2v1h-2zM800 1407h1v1h-1zM770 1450h2v1h-2zM797 1377h1v2h-1zM779 1411h1v1h-1zM805 1451h1v1h-1zM787 1427h1v2h-1zM772 1429h1v1h-1zM791 1439h1v1h-1zM782 1456h1v1h-1zM801 1390h1v2h-1zM792 1433h1v1h-1zM790 1376h1v1h-1zM801 1453h1v1h-1zM801 1426h2v1h-2zM779 1435h1v1h-1zM791 1393h1v1h-1zM806 1377h1v1h-1zM805 1368h2v1h-2zM803 1449h1v1h-1zM787 1389h2v1h-2zM782 1399h1v1h-1zM782 1449h1v1h-1zM782 1390h1v1h-1zM804 1459h1v1h-1zM775 1467h1v1h-1zM807 1430h1v2h-1zM793 1372h1v1h-1zM777 1453h1v1h-1zM800 1397h1v1h-1zM801 1403h1v1h-1zM797 1438h1v1h-1zM786 1377h1v1h-1zM773 1462h1v2h-1zM781 1413h2v1h-2zM804 1432h1v1h-1zM770 1459h2v1h-2zM787 1420h1v1h-1zM776 1427h2v1h-2zM790 1438h1v2h-1zM774 1376h1v1h-1zM775 1386h1v1h-1zM786 1375h1v1h-1zM802 1446h1v1h-1zM793 1382h1v2h-1zM795 1402h1v1h-1zM805 1447h1v2h-1zM803 1398h1v1h-1zM807 1451h1v2h-1zM788 1417h1v1h-1zM785 1413h2v1h-2zM791 1436h1v1h-1zM807 1405h1v1h-1zM772 1413h1v1h-1zM784 1422h1v1h-1zM773 1436h2v1h-2zM783 1453h1v2h-1zM769 1397h1v1h-1zM780 1414h1v1h-1zM797 1423h1v1h-1zM794 1370h1v1h-1zM784 1445h1v1h-1zM778 1424h2v1h-2zM793 1403h1v1h-1zM788 1406h1v2h-1zM783 1463h1v2h-1zM788 1437h1v2h-1zM796 1406h2v1h-2zM792 1444h1v1h-1zM799 1431h1v1h-1zM789 1456h1v1h-1zM791 1464h2v1h-2zM780 1376h1v2h-1zM801 1433h2v1h-2zM774 1420h2v1h-2zM786 1376h1v2h-1zM798 1419h1v2h-1zM778 1439h1v1h-1zM798 1432h1v1h-1zM778 1379h2v1h-2zM790 1447h1v1h-1zM798 1381h1v1h-1zM776 1369h1v1h-1zM784 1427h1v1h-1zM799 1435h1v1h-1zM789 1438h2v1h-2zM806 1407h1v1h-1zM793 1432h1v1h-1zM802 1404h1v1h-1zM785 1417h1v1h-1zM772 1370h1v1h-1zM772 1403h1v1h-1zM799 1387h1v1h-1zM790 1452h2v1h-2zM799 1462h1v2h-1zM801 1378h1v1h-1zM793 1409h2v1h-2zM802 1432h1v1h-1zM779 1392h1v1h-1zM794 1443h1v2h-1zM771 1402h1v1h-1zM786 1400h1v1h-1zM799 1379h1v1h-1zM803 1458h2v1h-2zM801 1392h1v1h-1zM796 1416h2v1h-2zM802 1418h1v2h-1zM798 1450h1v1h-1zM793 1427h1v2h-1zM769 1423h1v2h-1zM778 1402h1v1h-1zM792 1370h1v1h-1zM769 1409h1v1h-1zM804 1467h1v2h-1zM774 1426h1v1h-1zM799 1404h2v1h-2zM778 1450h1v1h-1zM795 1369h2v1h-2zM781 1395h1v1h-1zM800 1452h1v1h-1zM786 1448h1v1h-1zM784 1459h1v2h-1zM780 1458h1v1h-1zM787 1460h1v1h-1zM804 1368h1v1h-1zM791 1430h2v1h-2zM794 1467h1v1h-1zM806 1438h2v1h-2zM786 1445h1v1h-1zM775 1400h1v1h-1zM789 1450h1v1h-1zM789 1423h1v1h-1zM781 1451h1v1h-1zM795 1397h2v1h-2zM798 1373h2v1h-2zM804 1375h1v1h-1zM783 1464h1v1h-1zM791 1434h1v1h-1zM770 1446h2v1h-2zM796 1390h1v1h-1zM782 1429h1v2h-1zM785 1431h1v1h-1zM771 1377h1v1h-1zM772 1455h1v1h-1zM797 1463h2v1h-2zM804 1445h1v1h-1zM772 1449h1v1h-1zM790 1445h1v1h-1zM806 1465h1v1h-1zM779 1466h1v1h-1zM771 1428h1v2h-1zM776 1450h2v1h-2zM798 1381h1v1h-1zM789 1430h1v2h-1zM778 1388h1v1h-1zM801 1467h2v1h-2zM796 1414h1v1h-1zM791 1440h1v1h-1zM785 1381h1v1h-1zM781 1408h1v1h-1zM801 1457h1v1h-1zM779 1454h1v1h-1zM779 1435h2v1h-2zM794 1392h1v1h-1zM793 1383h1v1h-1zM789 1410h1v1h-1zM775 1371h1v1h-1zM773 1404h2v1h-2zM786 1420h1v1h-1zM769 1406h1v1h-1zM787 1384h2v1h-2zM774 1433h1v1h-1zM781 1439h1v1h-1zM770 1372h1v2h-1zM801 1415h2v1h-2zM781 1386h1v1h-1zM807 1395h2v1h-2zM796 1380h1v1h-1zM792 1453h1v1h-1zM776 1405h1v1h-1zM795 1396h1v1h-1zM780 1422h1v1h-1zM784 1412h2v1h-2zM779 1411h2v1h-2zM805 1462h1v2h-1zM796 1397h1v1h-1zM776 1444h1v1h-1zM776 1392h1v2h-1zM805 1391h1v1h-1zM795 1453h1v1h-1zM796 1398h1v1h-1zM799 1398h1v1h-1zM798 1432h1v1h-1zM783 1411h1v1h-1zM798 1397h1v1h-1zM794 1456h1v1h-1zM792 1426h1v2h-1zM795 1433h1v2h-1zM807 1378h1v1h-1zM788 1459h1v2h-1zM793 1405h2v1h-2zM771 1428h1v1h-1zM797 1385h2v1h-2zM770 1446h1v1h-1zM793 1368h1v1h-1zM803 1383h1v1h-1zM774 1406h1v2h-1zM778 1388h1v1h-1zM795 1448h1v1h-1zM779 1423h1v1h-1zM779 1459h1v1h-1zM794 1447h1v1h-1zM790 1444h1v1h-1zM784 1464h1v1h-1zM786 1436h1v1h-1zM784 1392h1v1h-1zM799 1420h1v1h-1zM794 1439h2v1h-2zM775 1440h1v2h-1zM770 1454h1v1h-1zM797 1460h1v2h-1zM801 1464h1v1h-1zM803 1401h1v1h-1zM802 1422h1v1h-1zM785 1447h1v1h-1zM796 1447h1v2h-1zM779 1438h1v1h-1zM804 1465h1v1h-1zM802 1422h2v1h-2zM776 1403h1v2h-1zM790 1410h1v1h-1zM785 1447h2v1h-2zM775 1413h1v1h-1zM787 1421h1v1h-1zM793 1430h1v1h-1zM771 1441h2v1h-2zM800 1416h1v2h-1zM788 1428h1v1h-1zM794 1374h1v1h-1zM792 1457h1v1h-1zM803 1406h1v1h-1zM802 1447h1v1h-1zM806 1418h1v1h-1zM788 1456h1v1h-1zM807 1430h2v1h-2zM783 1379h1v2h-1zM776 1426h1v2h-1zM779 1467h1v1h-1zM807 1400h1v1h-1zM776 1396h2v1h-2zM790 1411h1v1h-1zM787 1383h2v1h-2zM797 1428h1v2h-1zM789 1379h1v2h-1zM787 1449h1v1h-1zM770 1376h2v1h-2zM805 1403h1v1h-1zM791 1400h1v1h-1zM791 1409h1v1h-1zM793 1447h1v1h-1zM788 1458h1v1h-1zM804 1395h1v1h-1zM800 1462h1v2h-1zM769 1443h1v1h-1zM774 1433h1v1h-1zM790 1463h1v1h-1zM791 1467h1v1h-1zM775 1438h1v1h-1zM787 1439h1v2h-1zM799 1426h1v1h-1zM770 1435h1v1h-1zM780 1453h1v1h-1zM788 1384h2v1h-2zM789 1462h1v1h-1zM797 1430h1v1h-1zM781 1398h1v2h-1zM793 1391h1v1h-1zM783 1466h1v1h-1zM786 1388h2v1h-2zM782 1457h2v1h-2zM805 1443h1v1h-1zM780 1394h1v2h-1zM804 1397h1v2h-1zM777 1388h2v1h-2zM807 1457h2v1h-2zM802 1372h1v2h-1zM805 1440h1v1h-1zM797 1435h2v1h-2zM777 1425h1v1h-1zM800 1378h1v1h-1zM799 1397h1v1h-1zM780 1451h1v1h-1zM806 1404h1v1h-1zM774 1428h2v1h-2zM798 1448h1v1h-1zM784 1370h1v1h-1zM792 1400h1v2h-1zM806 1457h1v1h-1zM804 1463h1v1h-1zM781 1374h1v1h-1zM792 1421h1v1h-1zM769 1465h1v1h-1zM798 1385h2v1h-2zM773 1439h1v1h-1zM786 1400h1v1h-1zM801 1465h1v1h-1zM806 1370h1v1h-1zM793 1436h1v2h-1zM806 1377h1v1h-1zM770 1446h2v1h-2zM785 1434h1v1h-1zM788 1424h2v1h-2zM781 1452h1v1h-1zM769 1445h1v1h-1zM791 1386h1v1h-1zM787 1377h2v1h-2zM797 1412h1v1h-1zM794 1425h1v1h-1zM781 1434h1v1h-1zM791 1375h2v1h-2zM801 1433h2v1h-2zM781 1434h1v1h-1zM806 1407h1v1h-1zM779 1452h2v1h-2zM775 1428h1v1h-1zM773 1372h1v2h-1zM773 1422h1v1h-1zM786 1462h1v2h-1zM797 1394h1v2h-1zM776 1437h1v1h-1zM778 1440h1v1h-1zM788 1416h1v1h-1zM778 1396h2v1h-2zM805 1427h1v1h-1zM799 1408h2v1h-2zM785 1391h1v1h-1zM778 1464h1v1h-1zM777 1467h1v1h-1zM769 1453h1v2h-1zM795 1415h1v2h-1zM769 1426h1v1h-1zM778 1441h1v1h-1zM785 1461h1v1h-1zM803 1385h2v1h-2zM780 1412h1v2h-1zM798 1432h2v1h-2zM773 1440h2v1h-2zM774 1381h1v2h-1zM793 1442h1v2h-1zM770 1411h1v1h-1zM782 1448h2v1h-2zM799 1428h1v1h-1zM772 1430h2v1h-2zM778 1392h2v1h-2zM783 1437h1v1h-1zM801 1449h2v1h-2zM794 1444h1v1h-1zM781 1421h1v1h-1zM778 1377h1v2h-1zM789 1420h1v1h-1zM787 1442h1v1h-1zM784 1434h1v1h-1zM801 1436h2v1h-2zM773 1436h2v1h-2zM801 1376h1v1h-1zM790 1391h1v2h-1zM786 1420h1v2h-1zM781 1438h1v1h-1zM801 1395h1v1h-1zM796 1450h1v1h-1zM787 1413h2v1h-2zM779 1418h1v1h-1zM778 1369h1v1h-1zM807 1419h1v1h-1zM800 1449h1v1h-1zM797 1455h1v1h-1zM792 1395h1v1h-1zM792 1370h1v1h-1zM770 1395h2v1h-2zM769 1395h1v1h-1zM797 1451h1v1h-1zM782 1441h2v1h-2zM806 1418h1v1h-1zM783 1406h2v1h-2zM807 1432h1v1h-1zM789 1416h1v1h-1zM769 1406h2v1h-2zM788 1446h1v2h-1zM788 1454h1v1h-1zM788 1465h2v1h-2zM802 1422h1v1h-1zM797 1441h2v1h-2zM776 1441h1v1h-1zM800 1395h1v2h-1zM784 1372h1v1h-1zM781 1450h1v1h-1zM775 1445h1v1h-1zM778 1401h1v1h-1zM770 1434h1v1h-1zM773 1408h1v1h-1zM807 1376h1v1h-1zM775 1430h1v2h-1zM805 1427h1v2h-1zM791 1434h1v2h-1zM785 1458h1v2h-1zM805 1374h1v2h-1zM805 1460h1v1h-1zM798 1405h1v1h-1zM773 1387h1v1h-1zM796 1416h1v1h-1zM807 1425h1v1h-1zM787 1441h1v1h-1zM770 1438h1v1h-1zM797 1456h1v1h-1zM786 1387h1v1h-1zM789 1432h1v1h-1zM801 1426h1v1h-1zM784 1405h1v1h-1zM787 1437h1v2h-1zM777 1432h1v1h-1zM787 1424h1v1h-1zM802 1419h1v1h-1zM797 1381h1v1h-1zM776 1460h1v2h-1zM773 1379h1v1h-1zM772 1422h1v1h-1zM787 1385h1v1h-1zM799 1454h2v1h-2zM770 1376h1v1h-1zM776 1386h1v1h-1zM797 1420h1v2h-1zM781 1433h1v1h-1zM786 1448h1v1h-1zM773 1372h1v1h-1zM779 1372h1v2h-1zM793 1457h2v1h-2zM770 1455h1v1h-1zM770 1424h1v1h-1zM781 1458h1v1h-1zM786 1418h1v1h-1zM793 1393h2v1h-2zM790 1373h1v1h-1zM795 1416h1v1h-1zM804 1388h1v2h-1zM803 1387h2v1h-2zM781 1421h1v1h-1zM805 1411h1v2h-1zM795 1393h1v1h-1zM784 1377h1v2h-1zM771 1440h1v1h-1zM783 1419h1v1h-1zM784 1389h1v1h-1zM772 1382h1v1h-1zM801 1421h1v1h-1zM778 1449h1v1h-1zM800 1467h1v2h-1zM801 1369h1v1h-1zM799 1376h1v1h-1zM776 1445h1v1h-1zM786 1412h1v1h-1zM784 1419h1v1h-1zM800 1457h1v1h-1zM782 1405h1v2h-1zM785 1462h1v1h-1zM798 1449h1v1h-1zM795 1454h1v1h-1zM770 1389h1v1h-1zM797 1460h1v2h-1zM792 1460h1v1h-1zM781 1372h1v1h-1zM786 1456h1v1h-1zM774 1427h1v2h-1zM789 1451h1v1h-1zM798 1418h1v1h-1zM769 1387h1v1h-1zM803 1415h1v1h-1zM781 1433h1v2h-1zM803 1390h1v1h-1zM801 1433h1v2h-1zM806 1385h1v1h-1zM790 1369h1v2h-1zM799 1461h1v1h-1zM779 1425h1v1h-1zM804 1443h2v1h-2zM789 1431h1v1h-1zM784 1399h1v1h-1zM802 1431h1v1h-1zM775 1396h1v1h-1zM793 1448h2v1h-2zM769 1408h2v1h-2zM797 1433h1v1h-1zM775 1453h2v1h-2zM774 1386h1v1h-1zM805 1386h1v1h-1zM797 1378h1v1h-1zM775 1444h1v1h-1zM770 1418h2v1h-2zM789 1446h1v2h-1zM796 1409h1v1h-1zM771 1418h1v1h-1zM781 1391h1v1h-1z"/><line x1="768.5" y1="1009.5" x2="768.5" y2="1108.5" stroke-width="1.4" /><line x1="809" y1="1009.5" x2="809" y2="1108.5" stroke-width="1.8" /><line x1="768.5" y1="1367.5" x2="768.5" y2="1467.5" stroke-width="1.4" /><line x1="809" y1="1367.5" x2="809" y2="1467.5" stroke-width="1.8" /><path d="M662 1112.5 Q662 1109.5 665 1109.5 H809 V1367.5 H665 Q662 1367.5 662 1364.5 Z" stroke-width="2" fill="#fff"/><line x1="768.5" y1="1109.5" x2="768.5" y2="1367.5" stroke-width="1.4" /><path d="M669.7 1109.5 V1104.0 Q669.7 1102.2 671.5 1102.2 H757.4 Q759.2 1102.2 759.2 1104.0 V1109.5" stroke-width="1.8" fill="#fff"/><rect x="692.6" y="1094.3" width="43.70" height="7.90" rx="0" stroke-width="1.6" fill="#fff"/><line x1="693" y1="1097.0" x2="736" y2="1097.0" stroke-width="1" /><line x1="693" y1="1099.5" x2="736" y2="1099.5" stroke-width="1" /><rect x="689.6" y="1069.0" width="49.70" height="25.30" rx="0" stroke-width="2.2" fill="#fff"/><path d="M700.5 1070.0 V1093.5 M729 1070.0 V1093.5 M700.5 1072.5 Q715 1067.5 729 1072.5 M700.5 1090.5 Q715 1095.5 729 1090.5" stroke-width="1.6" fill="none"/><line x1="715.2" y1="1102.2" x2="715.2" y2="1120.5" stroke-width="1.8" /><line x1="715.2" y1="1205.5" x2="715.2" y2="1367.5" stroke-width="1.6" /><circle cx="714.5" cy="1160.9" r="44.5" stroke-width="1.7" fill="#fff"/><circle cx="714.5" cy="1160.9" r="34" stroke-width="13.6"/><circle cx="714.4" cy="1160.9" r="22.5" class="f"/><circle cx="713.5" cy="1159.7" r="18.9" fill="#fff" stroke="none"/><circle cx="714.4" cy="1160.9" r="14.1" stroke-width="2"/><rect x="696.2" y="1218.2" width="11.30" height="41.60" rx="0" stroke-width="1.8" /><line x1="699.6" y1="1218.5" x2="699.6" y2="1259.5" stroke-width="1.2" /><path d="M662 1225.1 H679.3 V1312.1 H662 M662 1249.3 H679.3 M662 1288.3 H679.3" stroke-width="1.8" fill="none"/><path d="M664.6 1367.5 V1373.0 Q664.6 1375.1 666.6 1375.1 H761.4 Q763.4 1375.1 763.4 1373.0 V1367.5" stroke-width="2.2" fill="none"/><line x1="666" y1="1374.5" x2="762" y2="1374.5" stroke-width="2.4" /><line x1="686.8" y1="1375.1" x2="686.8" y2="1441.9" stroke-width="1.3" /><line x1="742.3" y1="1375.1" x2="742.3" y2="1441.9" stroke-width="1.3" /><path d="M714.6 1414.8 L719.1 1429.3 L716.8000000000001 1429.3 L716.8000000000001 1448.2 L712.4 1448.2 L712.4 1429.3 L710.1 1429.3 Z" stroke="#c01018" stroke-width="2.2" fill="none"/><path d="M709.8 1459.0V1472.8M717.2 1459.0V1472.8M709.8 1465.9H717.2" stroke="#c01018" stroke-width="2.2" fill="none"/><line x1="714.5" y1="326.7" x2="922.7" y2="326.7" stroke-width="2" /><line x1="768" y1="316" x2="768" y2="338.5" stroke-width="2" /><line x1="809" y1="316" x2="809" y2="338.5" stroke-width="2" /><polygon class="f" points="768.0,326.7 741.0,321.7 741.0,331.7"/><polygon class="f" points="809.0,326.7 836.0,321.7 836.0,331.7"/><text class="serif thin" font-size="37" text-anchor="middle" ><tspan x="882.3" y="314.5">2</tspan><tspan x="901.5" y="314.5">0</tspan></text><line x1="755.2" y1="396.6" x2="957" y2="396.6" stroke-width="2" /><line x1="846" y1="386" x2="846" y2="411.6" stroke-width="2" /><polygon class="f" points="809.0,396.6 782.0,391.6 782.0,401.6"/><polygon class="f" points="846.0,396.6 873.0,391.6 873.0,401.6"/><text class="serif thin" font-size="37" text-anchor="middle" ><tspan x="917.6" y="384.5">1</tspan><tspan x="936.4" y="384.5">8</tspan></text><path d="M809 416.9 H846 V730 H809 M840.2 416.9 V730" stroke-width="2" fill="none"/><rect x="846" y="468.6" width="6.70" height="51.70" rx="0" stroke-width="1.6" /><rect x="846" y="588" width="3.40" height="102.30" rx="0" stroke-width="1.6" /><clipPath id="kclip"><path d="M849.4 588.4 L880 590.3 L921.5 591.6 L924.3 594.2 V686.4 L849.4 690.3 Z"/></clipPath><path d="M849 588.50H925M849 590.50H925M849 592.50H925M849 594.50H925M849 596.50H925M849 598.50H925M849 600.50H925M849 602.50H925M849 604.50H925M849 606.50H925M849 608.50H925M849 610.50H925M849 612.50H925M849 614.50H925M849 616.50H925M849 618.50H925M849 620.50H925M849 622.50H925M849 624.50H925M849 626.50H925M849 628.50H925M849 630.50H925M849 632.50H925M849 634.50H925M849 636.50H925M849 638.50H925M849 640.50H925M849 642.50H925M849 644.50H925M849 646.50H925M849 648.50H925M849 650.50H925M849 652.50H925M849 654.50H925M849 656.50H925M849 658.50H925M849 660.50H925M849 662.50H925M849 664.50H925M849 666.50H925M849 668.50H925M849 670.50H925M849 672.50H925M849 674.50H925M849 676.50H925M849 678.50H925M849 680.50H925M849 682.50H925M849 684.50H925M849 686.50H925M849 688.50H925M849 690.50H925" stroke-width="1.2" fill="none" clip-path="url(#kclip)"/><path d="M856 594 C870 598 885 596 895 606 C905 616 915 618 924 620 M905 594 C912 600 918 603 924 604 M852 670 C870 672 890 668 900 660 C910 652 918 650 924 649 M865 688 C880 686 900 684 924 681" stroke="#fff" stroke-width="0.9" fill="none" clip-path="url(#kclip)"/><path d="M849.4 588.4 L880 590.3 L921.5 591.6 L924.3 594.2 V686.4 L849.4 690.3 Z" stroke-width="2.6" fill="none"/><rect x="849.4" y="588.4" width="4.00" height="101.90" rx="0" stroke-width="0" class="f"/><path d="M878.3 590 V586 Q878.3 584 881 584 H898 Q900.6 584 900.6 586 V590.5" stroke-width="1.6" fill="#fff"/><line x1="662" y1="702" x2="662" y2="869.7" stroke-width="2" /><line x1="924.3" y1="686" x2="924.3" y2="869.7" stroke-width="2" /><line x1="662" y1="858.9" x2="924.3" y2="858.9" stroke-width="2" /><polygon class="f" points="662.0,858.9 689.0,853.9 689.0,863.9"/><polygon class="f" points="924.3,858.9 897.3,853.9 897.3,863.9"/><text class="serif thin" font-size="37" text-anchor="middle" ><tspan x="753.2" y="846.3">1</tspan><tspan x="773.2" y="846.3">2</tspan><tspan x="793" y="846.3">7</tspan><tspan x="807.1" y="846.3">.</tspan><tspan x="830.7" y="846.3">5</tspan></text><line x1="714" y1="995.2" x2="922.7" y2="995.2" stroke-width="2" /><line x1="767.7" y1="984.5" x2="767.7" y2="1004.6" stroke-width="2" /><line x1="809.3" y1="984.5" x2="809.3" y2="1004.6" stroke-width="2" /><polygon class="f" points="767.7,995.2 740.7,990.2 740.7,1000.2"/><polygon class="f" points="809.3,995.2 836.3,990.2 836.3,1000.2"/><text class="serif thin" font-size="37" text-anchor="middle" ><tspan x="882.3" y="983.4">2</tspan><tspan x="901.5" y="983.4">0</tspan></text><line x1="754.8" y1="1094.4" x2="1212" y2="1094.4" stroke-width="2" /><line x1="840.1" y1="1083.2" x2="840.1" y2="1108.2" stroke-width="2" /><polygon class="f" points="809.0,1094.4 782.0,1089.4 782.0,1099.4"/><polygon class="f" points="840.1,1094.4 867.1,1089.4 867.1,1099.4"/><text x="903" y="1082.5" class="sans" font-size="36" textLength="296" lengthAdjust="spacing">min0 ~ max15mm</text><path d="M809.5 1111.8 H839.8 V1365.4 H809.5" stroke-width="2" fill="none"/><path d="M839.8 1125.7 H877.6 Q880.6 1125.7 880.6 1128.7 V1192.2 Q880.6 1195.2 877.6 1195.2 H839.8" stroke-width="2" fill="none"/><path d="M880.6 1150.3 A10 10 0 0 1 880.6 1170.3" stroke-width="2" fill="none"/><path d="M839.8 1243.6 H968.7 Q973.7 1243.6 973.7 1248.6 V1357.4 Q973.7 1362.4 968.7 1362.4 H839.8 M839.8 1285 H973.7 M839.8 1321.6 H973.7" stroke-width="2" fill="none"/><path fill="#f8f8f8" stroke="none" fill-rule="evenodd" d="M160 1083 H508 V1395 H160 Z M209 1110 V1368 H457 V1110 Z"/><path fill="#222" stroke="none" d="M281 1386h1v1h-1zM349 1392h1v1h-1zM457 1116h1v1h-1zM487 1160h1v2h-1zM359 1090h1v1h-1zM192 1164h1v1h-1zM462 1104h1v1h-1zM175 1220h1v1h-1zM362 1378h1v1h-1zM209 1101h2v1h-2zM504 1306h1v1h-1zM433 1382h1v1h-1zM174 1226h1v1h-1zM503 1166h1v1h-1zM452 1374h2v1h-2zM495 1191h1v1h-1zM192 1329h1v1h-1zM170 1233h1v1h-1zM182 1392h1v1h-1zM183 1276h1v1h-1zM280 1101h1v1h-1zM199 1138h1v1h-1zM176 1184h1v1h-1zM239 1104h1v1h-1zM357 1387h1v1h-1zM484 1204h1v1h-1zM165 1295h1v1h-1zM321 1093h1v1h-1zM461 1151h2v1h-2zM481 1253h1v1h-1zM507 1263h1v1h-1zM171 1384h2v1h-2zM506 1093h1v1h-1zM312 1386h1v1h-1zM349 1387h1v2h-1zM173 1374h1v1h-1zM494 1220h1v2h-1zM492 1132h2v1h-2zM505 1197h1v1h-1zM221 1100h1v1h-1zM488 1126h1v1h-1zM336 1384h2v1h-2zM178 1294h1v2h-1zM162 1327h1v1h-1zM478 1344h1v1h-1zM273 1099h1v1h-1zM499 1348h1v1h-1zM461 1229h2v1h-2zM285 1106h2v1h-2zM380 1378h2v1h-2zM499 1093h1v1h-1zM473 1141h1v1h-1zM163 1332h1v1h-1zM364 1108h1v1h-1zM476 1352h1v1h-1zM186 1325h1v1h-1zM160 1111h1v1h-1zM183 1146h2v1h-2zM407 1099h1v1h-1zM204 1346h1v1h-1zM491 1282h1v1h-1zM161 1277h1v1h-1zM181 1274h1v1h-1zM492 1360h1v1h-1zM182 1303h2v1h-2zM481 1337h1v1h-1zM169 1208h1v2h-1zM298 1385h2v1h-2zM174 1249h1v1h-1zM323 1371h1v1h-1zM460 1085h1v1h-1zM182 1352h2v1h-2zM251 1095h1v1h-1zM222 1096h1v1h-1zM504 1329h1v1h-1zM305 1379h1v2h-1zM205 1101h1v1h-1zM191 1364h1v1h-1zM199 1206h1v1h-1zM490 1210h1v1h-1zM348 1389h1v1h-1zM451 1379h1v1h-1zM386 1383h1v1h-1zM235 1382h1v1h-1zM464 1382h1v1h-1zM317 1094h1v2h-1zM248 1374h1v1h-1zM405 1389h1v2h-1zM457 1368h2v1h-2zM197 1287h1v1h-1zM183 1322h1v1h-1zM255 1101h1v1h-1zM183 1243h1v2h-1zM206 1126h2v1h-2zM178 1265h1v1h-1zM505 1255h2v1h-2zM267 1382h1v1h-1zM500 1304h2v1h-2zM499 1218h2v1h-2zM333 1372h1v1h-1zM190 1233h1v1h-1zM490 1159h1v2h-1zM495 1315h2v1h-2zM329 1388h1v1h-1zM195 1137h1v1h-1zM229 1104h1v1h-1zM195 1263h1v1h-1zM298 1385h2v1h-2zM217 1371h1v1h-1zM256 1373h1v1h-1zM463 1394h2v1h-2zM247 1374h1v2h-1zM310 1098h1v1h-1zM442 1381h1v1h-1zM175 1390h1v2h-1zM484 1084h2v1h-2zM498 1202h1v1h-1zM178 1339h1v1h-1zM496 1161h2v1h-2zM205 1108h2v1h-2zM476 1202h1v1h-1zM169 1256h1v1h-1zM201 1390h1v1h-1zM177 1123h1v1h-1zM192 1185h1v1h-1zM181 1292h2v1h-2zM315 1094h1v1h-1zM179 1214h1v1h-1zM465 1288h1v2h-1zM161 1190h1v2h-1zM267 1094h1v2h-1zM246 1097h2v1h-2zM471 1169h1v1h-1zM171 1289h1v1h-1zM368 1099h1v1h-1zM186 1205h1v1h-1zM173 1195h1v2h-1zM464 1109h1v1h-1zM175 1255h1v1h-1zM207 1112h1v1h-1zM205 1386h1v1h-1zM213 1098h1v1h-1zM169 1170h1v1h-1zM497 1100h1v1h-1zM470 1284h2v1h-2zM419 1393h1v1h-1zM181 1161h1v2h-1zM171 1322h2v1h-2zM506 1132h1v1h-1zM467 1111h1v1h-1zM184 1313h1v1h-1zM491 1253h1v1h-1zM160 1119h1v2h-1zM201 1190h1v2h-1zM184 1161h1v1h-1zM233 1382h1v1h-1zM272 1370h1v1h-1zM418 1392h1v1h-1zM478 1123h2v1h-2zM217 1389h2v1h-2zM475 1138h1v1h-1zM502 1260h1v1h-1zM498 1311h1v1h-1zM309 1387h1v1h-1zM163 1320h1v2h-1zM489 1122h1v1h-1zM196 1365h1v1h-1zM491 1117h1v1h-1zM203 1211h1v2h-1zM479 1292h1v1h-1zM460 1100h1v2h-1zM169 1177h1v1h-1zM174 1160h1v2h-1zM487 1324h2v1h-2zM179 1259h1v1h-1zM199 1188h1v2h-1zM484 1273h1v1h-1zM175 1320h1v1h-1zM165 1090h2v1h-2zM434 1093h1v2h-1zM185 1083h1v2h-1zM177 1333h1v2h-1zM166 1224h1v1h-1zM333 1109h1v1h-1zM208 1313h1v1h-1zM333 1105h2v1h-2zM179 1167h1v1h-1zM303 1091h1v2h-1zM168 1331h1v1h-1zM426 1391h1v1h-1zM483 1170h1v2h-1zM197 1154h1v1h-1zM179 1293h1v1h-1zM459 1222h2v1h-2zM454 1389h1v1h-1zM502 1121h1v1h-1zM489 1312h1v2h-1zM494 1279h1v1h-1zM185 1221h1v2h-1zM179 1245h1v1h-1zM304 1101h2v1h-2zM200 1336h1v2h-1zM483 1146h1v1h-1zM162 1227h1v1h-1zM195 1303h1v2h-1zM439 1369h2v1h-2zM491 1087h2v1h-2zM187 1175h1v1h-1zM235 1107h1v1h-1zM173 1226h2v1h-2zM469 1122h1v1h-1zM163 1272h1v1h-1zM192 1264h1v1h-1zM170 1259h1v1h-1zM386 1374h1v1h-1zM262 1387h1v2h-1zM469 1112h1v1h-1zM453 1090h1v2h-1zM207 1320h1v1h-1zM234 1385h1v1h-1zM419 1371h1v1h-1zM322 1385h1v1h-1zM467 1259h1v1h-1zM468 1339h1v2h-1zM476 1109h2v1h-2zM472 1232h2v1h-2zM359 1369h1v1h-1zM459 1336h2v1h-2zM272 1083h1v1h-1zM474 1083h2v1h-2zM201 1190h1v1h-1zM175 1097h1v1h-1zM333 1382h2v1h-2zM466 1126h1v1h-1zM163 1333h1v1h-1zM460 1235h1v1h-1zM192 1309h1v1h-1zM164 1249h1v1h-1zM497 1252h1v1h-1zM458 1198h1v1h-1zM205 1109h1v1h-1zM173 1343h1v1h-1zM498 1353h1v2h-1zM335 1384h2v1h-2zM477 1348h1v1h-1zM459 1352h1v2h-1zM190 1304h1v1h-1zM482 1182h1v1h-1zM179 1250h1v1h-1zM187 1257h1v1h-1zM248 1372h1v2h-1zM471 1201h1v2h-1zM466 1359h1v1h-1zM188 1123h1v1h-1zM169 1379h1v2h-1zM233 1381h1v1h-1zM181 1381h1v1h-1zM484 1186h1v1h-1zM442 1386h1v1h-1zM507 1230h1v1h-1zM165 1299h1v1h-1zM256 1371h1v1h-1zM443 1378h1v1h-1zM188 1393h1v1h-1zM244 1104h1v1h-1zM418 1372h1v1h-1zM459 1281h1v2h-1zM176 1170h1v1h-1zM160 1191h1v1h-1zM291 1105h1v1h-1zM197 1331h1v1h-1zM332 1392h1v1h-1zM204 1123h1v1h-1zM163 1125h1v1h-1zM499 1309h1v2h-1zM161 1118h1v2h-1zM163 1099h1v1h-1zM212 1105h1v1h-1zM358 1088h1v1h-1zM481 1197h1v1h-1zM281 1085h1v1h-1zM321 1376h2v1h-2zM501 1388h1v2h-1zM209 1095h1v1h-1zM461 1256h1v2h-1zM392 1374h1v1h-1zM487 1390h1v1h-1zM460 1301h1v1h-1zM192 1174h1v1h-1zM457 1158h1v1h-1zM372 1093h2v1h-2zM402 1085h2v1h-2zM166 1107h1v1h-1zM480 1371h2v1h-2zM492 1105h2v1h-2zM202 1164h1v1h-1zM202 1237h1v1h-1zM421 1086h1v1h-1zM203 1298h1v1h-1zM330 1369h1v1h-1zM335 1391h1v1h-1zM332 1390h2v1h-2zM282 1382h2v1h-2zM494 1174h1v1h-1zM449 1378h1v1h-1zM380 1103h1v1h-1zM260 1393h2v1h-2zM469 1288h1v1h-1zM417 1368h1v1h-1zM490 1369h1v1h-1zM171 1182h1v1h-1zM213 1387h1v2h-1zM480 1299h1v1h-1zM480 1309h1v1h-1zM174 1213h1v1h-1zM462 1258h1v1h-1zM207 1253h1v1h-1zM266 1369h1v1h-1zM160 1342h1v1h-1zM302 1382h2v1h-2zM480 1368h1v1h-1zM295 1379h1v2h-1zM500 1128h2v1h-2zM495 1386h1v2h-1zM223 1394h1v1h-1zM172 1171h1v1h-1zM336 1390h1v2h-1zM327 1107h2v1h-2zM322 1393h1v1h-1zM170 1332h1v1h-1zM407 1083h2v1h-2zM165 1361h1v1h-1zM165 1324h2v1h-2zM162 1196h1v1h-1zM167 1110h1v1h-1zM488 1340h1v1h-1zM408 1087h1v1h-1zM506 1305h1v1h-1zM500 1126h1v2h-1zM202 1253h2v1h-2zM267 1108h1v1h-1zM179 1146h1v1h-1zM324 1090h1v1h-1zM434 1090h1v2h-1zM460 1305h2v1h-2zM482 1227h2v1h-2zM315 1387h1v1h-1zM480 1262h2v1h-2zM188 1317h1v1h-1zM468 1211h1v1h-1zM204 1120h1v1h-1zM447 1378h1v2h-1zM480 1204h1v1h-1zM497 1181h1v1h-1zM503 1134h2v1h-2zM410 1389h2v1h-2zM485 1246h1v1h-1zM459 1372h1v1h-1zM192 1186h1v1h-1zM197 1260h1v1h-1zM251 1102h1v1h-1zM457 1205h1v1h-1zM191 1088h1v1h-1zM232 1375h1v2h-1zM338 1379h1v1h-1zM503 1290h2v1h-2zM366 1094h1v1h-1zM476 1124h1v1h-1zM223 1087h1v2h-1zM208 1291h1v1h-1zM382 1104h1v1h-1zM371 1093h1v1h-1zM466 1265h1v1h-1zM160 1208h1v1h-1zM430 1383h1v1h-1zM355 1376h1v1h-1zM494 1137h1v2h-1zM498 1377h1v1h-1zM490 1370h1v1h-1zM468 1225h1v1h-1zM494 1192h1v1h-1zM461 1217h1v1h-1zM492 1143h1v1h-1zM452 1092h1v1h-1zM176 1362h1v1h-1zM477 1265h2v1h-2zM506 1383h1v1h-1zM166 1372h1v1h-1zM190 1368h1v1h-1zM485 1382h1v1h-1zM199 1320h1v1h-1zM196 1212h1v1h-1zM280 1385h1v1h-1zM368 1108h1v1h-1zM453 1083h2v1h-2zM479 1198h1v1h-1zM171 1136h1v1h-1zM215 1106h2v1h-2zM194 1370h1v1h-1zM504 1183h1v2h-1zM497 1161h2v1h-2zM504 1114h1v1h-1zM505 1264h1v1h-1zM487 1171h1v2h-1zM477 1096h1v1h-1zM268 1368h1v1h-1zM172 1233h2v1h-2zM455 1392h1v1h-1zM369 1096h1v1h-1zM199 1325h2v1h-2zM325 1393h1v1h-1zM199 1138h1v1h-1zM343 1386h1v1h-1zM170 1266h1v1h-1zM194 1174h1v2h-1zM173 1227h1v1h-1zM477 1323h1v1h-1zM185 1211h1v1h-1zM324 1379h1v2h-1zM481 1277h1v2h-1zM459 1192h1v1h-1zM196 1352h1v1h-1zM425 1380h1v1h-1zM497 1231h1v1h-1zM481 1371h2v1h-2zM372 1385h1v1h-1zM200 1392h1v1h-1zM200 1280h1v1h-1zM459 1277h1v1h-1zM312 1093h1v1h-1zM459 1230h1v1h-1zM230 1386h1v1h-1zM181 1104h1v1h-1zM473 1275h1v1h-1zM380 1090h1v2h-1zM162 1275h1v1h-1zM489 1274h2v1h-2zM494 1260h1v1h-1zM487 1108h1v1h-1zM460 1225h1v1h-1zM161 1187h1v1h-1zM178 1212h1v1h-1zM163 1125h1v2h-1zM324 1380h1v1h-1zM163 1275h1v1h-1zM501 1289h1v2h-1zM208 1117h2v1h-2zM169 1209h1v1h-1zM442 1106h1v1h-1zM198 1257h2v1h-2zM494 1207h1v1h-1zM207 1149h1v1h-1zM197 1371h1v2h-1zM480 1376h1v1h-1zM501 1171h1v1h-1zM165 1208h1v1h-1zM318 1107h1v1h-1zM332 1377h1v1h-1zM275 1373h1v1h-1zM185 1253h2v1h-2zM472 1223h2v1h-2zM251 1391h1v1h-1zM346 1387h1v1h-1zM201 1296h1v2h-1zM290 1374h1v1h-1zM423 1091h1v1h-1zM199 1091h2v1h-2zM468 1165h1v1h-1zM479 1302h1v1h-1zM189 1284h1v2h-1zM169 1196h1v1h-1zM270 1394h1v1h-1zM373 1087h1v1h-1zM486 1215h1v1h-1zM173 1191h1v1h-1zM446 1391h1v1h-1zM468 1324h1v1h-1zM486 1094h1v1h-1zM339 1095h1v2h-1zM464 1133h2v1h-2zM208 1232h1v1h-1zM311 1109h1v1h-1zM493 1258h1v2h-1zM264 1368h1v1h-1zM486 1090h2v1h-2zM410 1389h1v1h-1zM498 1381h1v1h-1zM363 1391h1v1h-1zM485 1384h2v1h-2zM253 1382h1v2h-1zM192 1181h1v1h-1zM270 1086h1v1h-1zM467 1313h2v1h-2zM462 1240h1v1h-1zM227 1379h1v1h-1zM474 1381h1v1h-1zM506 1318h1v1h-1zM322 1384h1v1h-1zM485 1264h1v1h-1zM480 1224h1v1h-1zM374 1390h1v1h-1zM201 1090h1v1h-1zM470 1351h1v1h-1zM343 1099h1v1h-1zM185 1127h2v1h-2zM396 1383h1v1h-1zM323 1085h1v1h-1zM160 1187h1v1h-1zM480 1315h1v1h-1zM278 1391h1v1h-1zM494 1276h1v1h-1zM183 1331h2v1h-2zM171 1310h2v1h-2zM357 1108h1v1h-1zM482 1302h1v1h-1zM466 1242h2v1h-2zM470 1222h1v1h-1zM424 1385h1v1h-1zM196 1326h1v2h-1zM199 1275h1v1h-1zM483 1309h1v1h-1zM161 1241h1v1h-1zM366 1388h1v1h-1zM350 1386h2v1h-2zM238 1094h1v1h-1zM429 1370h1v1h-1zM436 1394h2v1h-2zM466 1111h1v1h-1zM472 1335h1v1h-1zM492 1390h1v1h-1zM281 1375h1v1h-1zM262 1083h1v1h-1zM349 1104h1v1h-1zM459 1248h1v1h-1zM501 1388h1v1h-1zM476 1234h2v1h-2zM291 1386h1v2h-1zM269 1371h1v1h-1zM404 1382h1v1h-1zM412 1377h2v1h-2zM493 1300h1v1h-1zM480 1311h1v1h-1zM160 1339h1v1h-1zM206 1119h1v1h-1zM179 1103h1v2h-1zM284 1106h1v1h-1zM305 1393h1v1h-1zM262 1103h1v2h-1zM435 1391h1v1h-1zM196 1135h2v1h-2zM384 1096h1v2h-1zM486 1268h1v1h-1zM186 1287h1v1h-1zM209 1369h1v1h-1zM225 1094h1v2h-1zM204 1218h1v1h-1zM461 1220h2v1h-2zM492 1169h1v1h-1zM419 1093h1v1h-1zM420 1093h1v1h-1zM202 1128h1v1h-1zM468 1304h1v1h-1zM477 1174h1v1h-1zM184 1103h1v2h-1zM474 1263h1v1h-1zM477 1238h1v1h-1zM178 1364h1v1h-1zM172 1261h1v1h-1zM202 1172h1v2h-1zM201 1135h1v2h-1zM280 1383h1v1h-1zM212 1103h1v2h-1zM386 1388h1v1h-1zM313 1373h1v1h-1zM181 1208h1v2h-1zM492 1317h1v1h-1zM468 1288h1v2h-1zM502 1142h1v1h-1zM263 1103h1v1h-1zM173 1230h1v2h-1zM339 1108h1v1h-1zM194 1214h1v1h-1zM174 1226h1v1h-1zM460 1190h1v1h-1zM183 1239h1v1h-1zM485 1178h1v2h-1zM341 1372h1v1h-1zM488 1272h1v1h-1zM492 1277h1v1h-1zM179 1276h1v1h-1zM246 1389h1v1h-1zM441 1109h1v1h-1zM198 1170h1v1h-1zM255 1390h1v1h-1zM482 1267h1v1h-1zM446 1373h1v2h-1zM177 1323h1v1h-1zM444 1385h1v1h-1zM179 1294h1v1h-1zM243 1390h1v1h-1zM277 1388h1v1h-1zM489 1283h1v1h-1zM181 1389h1v1h-1zM189 1358h1v2h-1zM201 1302h1v1h-1zM457 1231h1v2h-1zM496 1245h1v1h-1zM190 1362h1v1h-1zM496 1160h1v1h-1zM463 1318h2v1h-2zM502 1191h1v1h-1zM165 1167h1v1h-1zM161 1246h1v1h-1zM305 1372h1v1h-1zM228 1382h1v1h-1zM191 1138h1v1h-1zM193 1336h1v2h-1zM382 1106h2v1h-2zM172 1106h1v1h-1zM175 1215h1v1h-1zM163 1143h1v1h-1zM470 1388h2v1h-2zM503 1108h1v1h-1zM185 1178h1v1h-1zM505 1230h1v1h-1zM461 1246h1v1h-1zM388 1372h1v1h-1zM438 1095h1v1h-1zM362 1383h1v1h-1zM476 1373h1v1h-1zM505 1271h1v1h-1zM297 1371h1v2h-1zM163 1095h2v1h-2zM469 1278h2v1h-2zM487 1144h1v2h-1zM307 1383h1v2h-1zM169 1334h1v1h-1zM465 1203h1v2h-1zM489 1383h1v1h-1zM291 1088h1v1h-1zM206 1144h1v1h-1zM376 1098h1v2h-1zM181 1306h2v1h-2zM176 1174h1v1h-1zM200 1298h1v1h-1zM200 1265h1v1h-1zM205 1086h1v2h-1zM495 1283h2v1h-2zM342 1368h1v1h-1zM197 1318h1v1h-1zM174 1236h1v1h-1zM389 1088h2v1h-2zM163 1221h1v1h-1zM370 1095h1v1h-1zM211 1373h1v1h-1zM306 1095h1v1h-1zM349 1097h1v2h-1zM490 1181h2v1h-2zM463 1275h1v1h-1zM181 1356h1v1h-1zM329 1374h1v1h-1zM216 1106h1v1h-1zM497 1329h1v1h-1zM494 1349h2v1h-2zM465 1272h1v1h-1zM466 1202h1v1h-1zM497 1326h2v1h-2zM340 1370h1v1h-1zM186 1206h1v1h-1zM165 1129h1v1h-1zM467 1206h1v2h-1zM422 1387h1v2h-1zM501 1090h1v1h-1zM478 1228h2v1h-2zM504 1323h1v1h-1zM192 1285h1v1h-1zM444 1391h1v2h-1zM499 1112h1v2h-1zM287 1093h1v1h-1zM163 1205h2v1h-2zM243 1103h1v1h-1zM160 1141h1v2h-1zM192 1372h1v1h-1zM191 1301h1v1h-1zM188 1083h1v1h-1zM283 1101h2v1h-2zM415 1369h1v1h-1zM175 1265h2v1h-2zM471 1350h1v1h-1zM163 1247h1v1h-1zM504 1139h1v1h-1zM401 1392h1v1h-1zM507 1191h1v1h-1zM491 1099h1v1h-1zM181 1206h1v1h-1zM457 1148h1v1h-1zM502 1145h1v1h-1zM492 1232h1v1h-1zM496 1265h1v1h-1zM194 1342h2v1h-2zM506 1143h1v1h-1zM480 1120h2v1h-2zM171 1174h2v1h-2zM500 1233h1v1h-1zM202 1300h1v1h-1zM369 1373h1v1h-1zM439 1104h1v1h-1zM460 1237h1v2h-1zM432 1102h2v1h-2zM462 1258h1v2h-1zM485 1155h1v1h-1zM451 1386h1v1h-1zM163 1262h1v1h-1zM208 1230h1v1h-1zM359 1107h2v1h-2zM196 1083h1v1h-1zM189 1235h1v1h-1zM216 1103h1v1h-1zM309 1374h2v1h-2zM173 1180h2v1h-2zM474 1284h1v2h-1zM252 1098h1v1h-1zM199 1149h1v1h-1zM188 1233h2v1h-2zM491 1224h1v2h-1zM162 1240h1v1h-1zM505 1360h1v1h-1zM468 1113h1v2h-1zM454 1083h1v1h-1zM494 1348h1v2h-1zM502 1158h1v1h-1zM170 1223h1v2h-1zM280 1107h1v2h-1zM457 1328h1v1h-1zM197 1277h1v1h-1zM462 1362h1v1h-1zM233 1105h1v1h-1zM240 1107h2v1h-2zM484 1245h1v1h-1zM346 1102h1v1h-1zM168 1240h1v1h-1zM314 1088h1v1h-1zM470 1363h1v1h-1zM492 1291h1v1h-1zM282 1391h1v1h-1zM480 1195h1v1h-1zM203 1193h1v1h-1zM330 1090h1v1h-1zM278 1391h1v2h-1zM188 1270h2v1h-2zM193 1280h1v1h-1zM338 1094h1v2h-1zM249 1372h1v1h-1zM435 1084h1v1h-1zM169 1387h1v1h-1zM392 1101h2v1h-2zM460 1217h1v1h-1zM320 1369h1v1h-1zM175 1284h1v2h-1zM478 1293h2v1h-2zM323 1106h1v1h-1zM482 1254h1v1h-1zM165 1123h1v2h-1zM474 1320h1v1h-1zM208 1306h1v1h-1zM486 1322h1v1h-1zM320 1084h1v1h-1zM505 1161h2v1h-2zM191 1273h2v1h-2zM472 1341h1v1h-1zM180 1240h1v2h-1zM178 1330h1v1h-1zM479 1261h1v1h-1zM497 1205h1v1h-1zM216 1371h1v1h-1zM472 1255h2v1h-2zM495 1174h1v1h-1zM166 1142h1v1h-1zM490 1160h1v1h-1zM176 1285h1v2h-1zM163 1381h1v1h-1zM173 1367h1v1h-1zM491 1210h1v1h-1zM492 1122h1v1h-1zM490 1371h1v1h-1zM477 1273h1v1h-1zM493 1198h1v1h-1zM378 1095h2v1h-2zM272 1378h1v1h-1zM414 1091h2v1h-2zM480 1272h2v1h-2zM229 1379h1v2h-1zM482 1356h1v2h-1zM165 1182h1v2h-1zM161 1191h1v1h-1zM177 1353h1v1h-1zM170 1159h1v1h-1zM471 1379h1v1h-1zM194 1153h1v1h-1zM459 1247h1v1h-1zM475 1108h1v1h-1zM208 1237h1v2h-1zM477 1183h1v1h-1zM500 1088h1v1h-1zM168 1356h1v1h-1zM489 1344h1v1h-1zM206 1305h1v1h-1zM381 1085h1v1h-1zM476 1359h2v1h-2zM165 1282h1v1h-1zM476 1111h1v1h-1zM482 1320h2v1h-2zM176 1256h2v1h-2zM480 1128h1v1h-1zM488 1292h2v1h-2zM167 1287h2v1h-2zM185 1382h1v1h-1zM194 1289h1v1h-1zM174 1164h1v1h-1zM463 1380h1v1h-1zM485 1277h1v1h-1zM504 1086h1v1h-1zM243 1089h1v1h-1zM170 1303h1v1h-1zM482 1182h1v2h-1zM259 1106h1v1h-1zM420 1372h1v1h-1zM242 1102h1v1h-1zM161 1351h1v1h-1zM507 1170h1v1h-1zM239 1083h1v1h-1zM504 1316h1v1h-1zM176 1204h1v1h-1zM194 1107h1v2h-1zM168 1172h1v1h-1zM481 1333h1v1h-1zM482 1133h1v1h-1zM496 1327h1v1h-1zM188 1116h1v1h-1zM503 1125h1v1h-1zM503 1257h1v1h-1zM476 1376h1v1h-1zM467 1230h1v1h-1zM184 1104h1v1h-1zM498 1394h1v2h-1zM290 1089h1v2h-1zM399 1379h1v2h-1zM173 1131h2v1h-2zM195 1200h2v1h-2zM169 1217h1v1h-1zM420 1386h1v1h-1zM485 1160h1v1h-1zM305 1386h2v1h-2zM496 1333h1v1h-1zM290 1375h1v1h-1zM385 1389h1v1h-1zM474 1191h1v2h-1zM164 1210h1v1h-1zM171 1118h1v1h-1zM484 1385h1v1h-1zM292 1388h1v1h-1zM360 1383h1v1h-1zM499 1334h1v1h-1zM205 1328h1v1h-1zM304 1102h1v2h-1zM468 1164h1v2h-1zM332 1103h1v1h-1zM460 1190h1v1h-1zM492 1266h2v1h-2zM366 1101h1v1h-1zM490 1355h1v1h-1zM199 1165h1v1h-1zM416 1088h1v2h-1zM168 1371h2v1h-2zM184 1253h1v1h-1zM173 1258h1v1h-1zM207 1215h1v1h-1zM499 1088h1v1h-1zM460 1170h1v2h-1zM466 1203h1v1h-1zM504 1369h1v1h-1zM384 1083h1v1h-1zM230 1103h1v1h-1zM182 1348h1v2h-1zM470 1101h1v1h-1zM485 1368h1v2h-1zM461 1114h1v1h-1zM471 1183h2v1h-2zM172 1220h1v2h-1zM330 1389h2v1h-2zM185 1276h1v1h-1zM207 1138h1v1h-1zM435 1100h2v1h-2zM498 1138h1v1h-1zM478 1192h1v2h-1zM223 1391h2v1h-2zM182 1270h1v1h-1zM503 1103h1v1h-1zM397 1107h1v2h-1zM290 1371h2v1h-2zM493 1262h1v1h-1zM262 1381h1v1h-1zM199 1308h2v1h-2zM484 1163h1v2h-1zM202 1206h2v1h-2zM181 1199h1v1h-1zM502 1205h1v1h-1zM469 1286h1v2h-1zM176 1249h1v1h-1zM183 1362h1v1h-1zM491 1373h1v1h-1zM499 1249h1v1h-1zM473 1259h1v1h-1zM163 1250h1v2h-1zM182 1169h1v1h-1zM166 1178h1v1h-1zM166 1344h2v1h-2zM493 1108h1v1h-1zM171 1355h2v1h-2zM185 1162h1v1h-1zM173 1392h1v2h-1zM189 1336h1v2h-1zM181 1324h1v2h-1zM491 1122h1v1h-1zM499 1382h1v1h-1zM323 1109h1v1h-1zM376 1384h1v1h-1zM501 1160h1v1h-1zM202 1104h1v1h-1zM176 1166h1v2h-1zM398 1387h1v2h-1zM225 1086h1v1h-1zM284 1083h1v1h-1zM480 1227h1v1h-1zM172 1293h1v2h-1zM236 1389h1v2h-1zM198 1372h1v1h-1zM190 1310h1v1h-1zM177 1215h1v1h-1zM504 1172h2v1h-2zM486 1293h1v1h-1zM172 1180h1v1h-1zM487 1100h1v1h-1zM190 1289h1v1h-1zM200 1221h1v1h-1zM294 1372h1v1h-1zM194 1347h1v1h-1zM457 1363h2v1h-2zM189 1326h1v2h-1zM184 1195h1v1h-1zM362 1377h1v2h-1zM323 1096h1v1h-1zM502 1091h1v1h-1zM172 1351h2v1h-2zM175 1165h1v1h-1zM470 1170h2v1h-2zM209 1085h1v1h-1zM499 1116h1v1h-1zM344 1090h1v2h-1zM241 1370h1v1h-1zM308 1382h1v1h-1zM394 1372h1v1h-1zM385 1374h1v2h-1zM183 1106h1v1h-1zM440 1381h1v1h-1zM466 1112h2v1h-2zM394 1094h1v2h-1zM292 1101h1v1h-1zM460 1362h1v2h-1zM301 1084h1v1h-1zM175 1177h1v1h-1zM284 1105h1v2h-1zM387 1109h1v1h-1zM246 1385h1v2h-1zM501 1289h1v2h-1zM180 1343h1v2h-1zM203 1175h1v1h-1zM202 1305h1v1h-1zM226 1087h1v1h-1zM234 1090h1v1h-1zM463 1234h1v1h-1zM318 1083h1v1h-1zM386 1105h1v1h-1zM456 1387h1v2h-1zM244 1377h1v2h-1zM172 1317h2v1h-2zM258 1089h1v1h-1zM184 1183h1v1h-1zM192 1092h1v1h-1zM486 1177h1v1h-1zM206 1162h1v2h-1zM205 1296h1v1h-1zM223 1083h1v1h-1zM384 1084h1v1h-1zM163 1255h1v2h-1zM460 1288h1v1h-1zM206 1083h1v1h-1zM198 1348h1v1h-1zM404 1108h2v1h-2zM461 1171h2v1h-2zM411 1378h1v2h-1zM197 1285h1v1h-1zM502 1224h1v1h-1zM469 1111h1v1h-1zM372 1097h1v1h-1zM480 1332h1v2h-1zM165 1333h2v1h-2zM160 1254h1v2h-1zM417 1096h1v1h-1zM491 1300h1v1h-1zM470 1180h1v1h-1zM480 1238h1v2h-1zM197 1363h1v1h-1zM196 1338h1v1h-1zM294 1083h1v1h-1zM362 1378h1v1h-1zM166 1363h1v2h-1zM479 1285h1v1h-1zM504 1340h1v1h-1zM181 1115h2v1h-2zM401 1379h1v1h-1zM184 1292h2v1h-2zM186 1144h1v1h-1zM394 1109h1v1h-1zM490 1342h1v1h-1zM191 1207h1v1h-1zM319 1107h2v1h-2zM487 1180h2v1h-2zM193 1197h1v1h-1zM186 1380h2v1h-2zM491 1182h1v2h-1zM489 1155h1v1h-1zM242 1385h1v1h-1zM483 1114h1v1h-1zM174 1305h1v1h-1zM497 1276h1v1h-1zM503 1262h2v1h-2zM462 1169h1v2h-1zM181 1156h2v1h-2zM439 1099h1v1h-1zM473 1375h1v1h-1zM258 1386h2v1h-2zM206 1363h1v1h-1zM318 1109h1v1h-1zM221 1370h1v1h-1zM492 1365h1v1h-1zM197 1229h1v2h-1zM218 1101h1v1h-1zM493 1124h1v1h-1zM168 1287h1v1h-1zM502 1244h1v1h-1zM208 1273h1v1h-1zM253 1374h1v1h-1zM506 1221h2v1h-2zM395 1108h1v1h-1zM217 1105h1v1h-1zM188 1097h1v1h-1zM328 1103h1v1h-1zM502 1211h1v2h-1zM190 1370h2v1h-2zM507 1161h2v1h-2zM297 1107h2v1h-2zM489 1091h1v1h-1zM185 1257h1v2h-1zM199 1342h2v1h-2zM474 1259h1v1h-1zM471 1199h1v1h-1zM189 1339h1v2h-1zM207 1375h1v1h-1zM499 1238h1v2h-1zM171 1251h1v2h-1zM168 1281h1v1h-1zM188 1335h1v1h-1zM192 1260h1v1h-1zM253 1377h1v1h-1zM428 1385h1v1h-1zM481 1145h1v1h-1zM213 1371h2v1h-2zM468 1114h1v1h-1zM475 1356h1v2h-1zM491 1373h2v1h-2zM278 1094h1v1h-1zM176 1342h1v1h-1zM193 1216h1v1h-1zM297 1373h1v1h-1zM278 1381h1v1h-1zM407 1380h1v1h-1zM180 1184h1v1h-1zM472 1092h1v1h-1zM417 1371h2v1h-2zM396 1390h1v1h-1zM187 1219h1v2h-1zM164 1344h1v2h-1zM506 1125h1v1h-1zM328 1096h1v1h-1zM189 1273h1v1h-1zM164 1274h1v2h-1zM191 1286h1v2h-1zM464 1185h1v2h-1zM429 1089h1v1h-1zM486 1278h1v1h-1zM224 1097h1v1h-1zM489 1091h1v1h-1zM184 1111h1v2h-1zM339 1094h1v1h-1zM491 1333h1v1h-1zM322 1369h1v1h-1zM492 1299h1v2h-1zM204 1226h1v1h-1zM432 1103h1v1h-1zM196 1092h1v1h-1zM310 1084h1v1h-1zM163 1275h1v2h-1zM172 1150h1v1h-1zM333 1377h1v1h-1zM207 1304h1v2h-1zM328 1387h1v1h-1zM408 1372h1v1h-1zM505 1202h1v1h-1zM417 1083h1v2h-1zM179 1310h1v1h-1zM191 1375h1v2h-1zM187 1314h1v1h-1zM200 1358h1v1h-1zM278 1087h1v1h-1zM170 1350h1v1h-1zM485 1313h1v1h-1zM474 1237h1v1h-1zM470 1202h1v1h-1zM187 1221h1v1h-1zM501 1260h2v1h-2zM506 1336h1v2h-1zM479 1099h1v2h-1zM168 1325h1v1h-1zM203 1134h2v1h-2zM501 1360h1v1h-1zM377 1376h1v1h-1zM374 1099h1v1h-1zM501 1156h2v1h-2zM162 1091h1v1h-1zM195 1092h1v1h-1zM294 1391h1v1h-1zM171 1390h1v1h-1zM504 1240h1v1h-1zM171 1109h1v1h-1zM182 1084h1v1h-1zM503 1091h1v1h-1zM164 1083h2v1h-2zM215 1084h1v2h-1zM358 1100h1v1h-1zM414 1383h2v1h-2zM446 1384h1v2h-1zM322 1370h1v1h-1zM385 1379h1v1h-1zM181 1208h1v1h-1zM397 1085h1v1h-1zM168 1252h1v1h-1zM189 1099h1v1h-1zM482 1150h1v1h-1zM497 1239h2v1h-2zM177 1294h1v2h-1zM346 1108h1v1h-1zM165 1148h1v1h-1zM192 1211h1v1h-1zM292 1092h1v1h-1zM262 1370h2v1h-2zM473 1341h1v1h-1zM161 1314h1v1h-1zM205 1318h1v1h-1zM165 1390h1v2h-1zM489 1304h1v1h-1zM406 1093h1v1h-1zM198 1230h1v1h-1zM290 1102h1v2h-1zM483 1320h1v1h-1zM468 1118h1v1h-1zM192 1206h1v1h-1zM465 1383h2v1h-2zM170 1093h1v1h-1zM177 1242h1v1h-1zM462 1263h1v2h-1zM300 1090h1v1h-1zM495 1372h1v1h-1zM173 1160h1v1h-1zM229 1089h1v2h-1zM253 1370h1v1h-1zM182 1337h1v1h-1zM208 1202h1v1h-1zM485 1093h1v2h-1zM370 1092h2v1h-2zM488 1100h1v1h-1zM460 1357h1v1h-1zM479 1104h1v1h-1zM394 1100h1v1h-1zM196 1172h1v1h-1zM426 1103h1v2h-1zM451 1096h1v1h-1zM473 1158h2v1h-2zM481 1206h2v1h-2zM276 1084h1v1h-1zM460 1169h1v1h-1zM487 1295h1v1h-1zM277 1095h1v1h-1zM182 1383h1v1h-1zM165 1195h2v1h-2zM428 1390h1v2h-1zM468 1367h1v1h-1zM489 1343h1v1h-1zM175 1355h1v1h-1zM484 1389h1v1h-1zM273 1097h1v1h-1zM223 1379h1v1h-1zM275 1383h1v1h-1zM500 1135h2v1h-2zM208 1363h1v1h-1zM484 1095h1v1h-1zM413 1377h1v1h-1zM314 1386h1v2h-1zM359 1374h2v1h-2zM318 1089h1v1h-1zM256 1106h1v2h-1zM206 1215h1v1h-1zM451 1381h1v1h-1zM373 1087h1v1h-1zM470 1098h1v1h-1zM479 1269h1v1h-1zM321 1389h1v1h-1zM386 1102h1v1h-1zM185 1310h2v1h-2zM335 1372h1v1h-1zM175 1146h2v1h-2zM461 1281h1v1h-1zM500 1298h1v2h-1zM180 1220h1v1h-1zM478 1144h1v1h-1zM448 1391h1v1h-1zM186 1294h1v1h-1zM173 1261h1v1h-1zM163 1364h2v1h-2zM465 1219h1v1h-1zM375 1385h1v1h-1zM167 1159h1v2h-1zM458 1281h1v1h-1zM484 1338h1v2h-1zM506 1240h2v1h-2zM459 1199h1v1h-1zM204 1351h1v1h-1zM202 1368h1v1h-1zM465 1097h1v1h-1zM488 1292h2v1h-2zM176 1110h1v1h-1zM502 1228h2v1h-2zM353 1386h1v1h-1zM319 1108h1v1h-1zM310 1087h1v1h-1zM446 1387h2v1h-2zM199 1115h1v1h-1zM474 1306h1v1h-1zM161 1207h1v1h-1zM198 1172h1v1h-1zM181 1137h1v1h-1zM481 1255h1v2h-1zM499 1337h2v1h-2zM491 1106h1v1h-1zM203 1117h1v1h-1zM463 1173h1v1h-1zM480 1209h1v1h-1zM469 1252h1v1h-1zM501 1217h1v1h-1zM307 1096h1v1h-1zM437 1384h2v1h-2zM165 1287h1v2h-1zM307 1393h1v1h-1zM254 1384h1v1h-1zM215 1083h1v1h-1zM414 1109h2v1h-2zM507 1339h2v1h-2zM205 1192h1v1h-1zM183 1120h1v1h-1zM470 1193h1v2h-1zM458 1149h1v1h-1zM279 1382h1v1h-1zM356 1372h1v2h-1zM223 1084h1v1h-1zM489 1170h1v1h-1zM206 1142h1v2h-1zM174 1092h1v1h-1zM391 1107h1v1h-1zM285 1379h1v2h-1zM449 1391h1v1h-1zM469 1106h1v1h-1zM168 1384h2v1h-2zM419 1376h1v1h-1zM425 1108h1v2h-1zM466 1172h1v2h-1zM272 1091h2v1h-2zM204 1351h1v1h-1zM187 1229h1v1h-1zM337 1108h1v1h-1zM383 1370h1v1h-1zM464 1098h1v1h-1zM180 1360h2v1h-2zM463 1277h1v2h-1zM494 1266h1v2h-1zM194 1274h1v1h-1zM481 1366h1v1h-1zM470 1211h1v1h-1zM492 1250h1v2h-1zM191 1274h1v1h-1zM190 1304h1v1h-1zM184 1185h1v1h-1zM503 1283h1v1h-1zM425 1387h1v1h-1zM319 1380h2v1h-2zM192 1179h1v1h-1zM224 1098h1v1h-1zM497 1132h2v1h-2zM487 1209h2v1h-2zM352 1380h1v2h-1zM491 1141h1v2h-1zM453 1109h1v1h-1zM463 1113h1v1h-1zM179 1348h1v1h-1zM470 1203h1v1h-1zM495 1143h1v1h-1zM493 1103h1v2h-1zM471 1359h1v1h-1zM173 1381h1v2h-1zM189 1391h1v1h-1zM262 1096h1v1h-1zM208 1098h2v1h-2zM357 1083h1v1h-1zM460 1372h2v1h-2zM463 1157h1v1h-1zM383 1374h1v1h-1zM470 1196h1v1h-1zM282 1108h1v2h-1zM499 1192h1v1h-1zM404 1092h1v1h-1zM163 1358h1v2h-1zM295 1095h1v2h-1zM179 1344h2v1h-2zM358 1377h1v1h-1zM280 1392h1v1h-1zM193 1237h1v2h-1zM228 1091h1v2h-1zM175 1255h1v1h-1zM181 1363h1v1h-1zM180 1215h2v1h-2zM505 1276h1v1h-1zM457 1350h1v1h-1zM467 1335h2v1h-2zM457 1224h1v1h-1zM404 1084h1v2h-1zM360 1371h1v2h-1zM311 1103h1v1h-1zM247 1093h1v1h-1zM242 1393h2v1h-2zM487 1242h1v1h-1zM178 1201h1v1h-1zM476 1209h2v1h-2zM478 1352h1v1h-1zM498 1096h1v2h-1zM506 1136h1v1h-1zM203 1150h1v1h-1zM244 1096h1v1h-1zM506 1113h1v2h-1zM162 1286h1v1h-1zM448 1106h1v1h-1zM308 1370h1v1h-1zM474 1258h1v1h-1zM329 1105h1v1h-1zM492 1328h1v1h-1zM189 1240h1v1h-1zM478 1274h1v1h-1zM198 1195h1v2h-1zM178 1328h1v1h-1zM300 1092h1v1h-1zM285 1094h1v1h-1zM397 1104h1v1h-1zM507 1185h1v1h-1zM471 1195h1v1h-1zM169 1185h1v2h-1zM183 1146h1v1h-1zM195 1219h1v1h-1z"/><line x1="209" y1="973.3" x2="209" y2="1106" stroke-width="2" /><line x1="456" y1="973.3" x2="456" y2="1106" stroke-width="2" /><line x1="209" y1="983.6" x2="456" y2="983.6" stroke-width="2" /><polygon class="f" points="209.0,983.6 236.0,978.6 236.0,988.6"/><polygon class="f" points="456.0,983.6 429.0,978.6 429.0,988.6"/><text class="serif thin" font-size="37" text-anchor="middle" ><tspan x="311.9" y="971.5">1</tspan><tspan x="331.5" y="971.5">2</tspan><tspan x="350.7" y="971.5">0</tspan></text><text x="283" y="1038.7" class="sans" font-size="36.5">G1/2</text><path d="M367.1 1016.7 L373.6 1009.5 M373.4 1016.7 L379.9 1009.5" stroke-width="2.1" fill="none"/><line x1="256.3" y1="1051.7" x2="409.1" y2="1051.7" stroke-width="2" /><line x1="311" y1="1040.9" x2="311" y2="1069.3" stroke-width="2" /><line x1="354.2" y1="1040.9" x2="354.2" y2="1069.3" stroke-width="2" /><polygon class="f" points="311.0,1051.7 284.0,1046.7 284.0,1056.7"/><polygon class="f" points="354.2,1051.7 381.2,1046.7 381.2,1056.7"/><rect x="288" y="1102.9" width="89.20" height="7.10" rx="1.5" stroke-width="1.8" fill="#fff"/><rect x="311" y="1094" width="43.20" height="8.90" rx="0" stroke-width="1.6" fill="#fff"/><path d="M311 1097 H330 L333 1096 H354 M311 1099.5 H330 L333 1098.5 H354" stroke-width="1" fill="none"/><rect x="307.7" y="1069.3" width="49.80" height="24.70" rx="1" stroke-width="2.4" fill="#fff"/><path d="M311 1070 V1093.5 M355.3 1070 V1093.5 M317.8 1071 V1092.5 M347 1071 V1092.5 M317.8 1073 Q332.5 1069 347 1073 M317.8 1091 Q332.5 1095 347 1091" stroke-width="1.6" fill="none"/><rect x="209.2" y="1110" width="245.8" height="257" fill="#fff" stroke="none"/><line x1="209.2" y1="1110" x2="209.2" y2="1368" stroke-width="1.7" /><line x1="208.2" y1="1110" x2="456.8" y2="1110" stroke-width="2.4" /><line x1="455" y1="1109" x2="455" y2="1368.5" stroke-width="3.6" /><line x1="208.2" y1="1367" x2="456.8" y2="1367" stroke-width="3.3" /><line x1="213.4" y1="1114" x2="213.4" y2="1364" stroke-width="4.8" /><line x1="213" y1="1114.5" x2="451.5" y2="1114.5" stroke-width="2" /><line x1="450.4" y1="1114" x2="450.4" y2="1363.5" stroke-width="2.6" /><line x1="213" y1="1362.9" x2="451.5" y2="1362.9" stroke-width="1.6" /><path d="M260.3 1126 H405.7 A34.25 34.25 0 0 1 405.7 1194.5 H260.3 A34.25 34.25 0 0 1 260.3 1126 Z" stroke-width="2" fill="none"/><rect x="314.7" y="1153.2" width="37.20" height="14.40" rx="0" stroke-width="1.8" /><line x1="321.5" y1="1153.5" x2="321.5" y2="1167.5" stroke-width="1.8" /><line x1="343.3" y1="1153.5" x2="343.3" y2="1167.5" stroke-width="1.8" /><ellipse cx="333" cy="1160.4" rx="5" ry="3" stroke-width="1.8"/><rect x="302.2" y="1150.4" width="12.50" height="20.00" rx="1.5" stroke-width="0" class="f"/><rect x="305.4" y="1152.4" width="5.90" height="16.10" rx="0" stroke-width="0" fill="#fff" stroke="none"/><rect x="351.6" y="1150.4" width="11.10" height="20.00" rx="1.5" stroke-width="0" class="f"/><rect x="354.8" y="1152.4" width="4.60" height="16.10" rx="0" stroke-width="0" fill="#fff" stroke="none"/><path d="M276.4 1284.3 A59 59 0 0 1 388.6 1284.3 H408.5 Q413.5 1284.3 413.5 1289.3 V1317.6 Q413.5 1322.6 408.5 1322.6 H388 A59 59 0 0 1 277 1322.6 H256.6 Q251.6 1322.6 251.6 1317.6 V1289.3 Q251.6 1284.3 256.6 1284.3 Z" stroke-width="2" fill="none"/><path d="M209 1116.6 H204.4 Q202.2 1116.6 202.2 1118.8 V1203.5 Q202.2 1205.7 204.4 1205.7 H209" stroke-width="1.8" fill="#fff"/><path d="M202 1139.5 H178.5 Q176.5 1139.5 176.5 1141.5 V1180.4 Q176.5 1182.4 178.5 1182.4 H202 Z" stroke-width="1.8" fill="#fff"/><path d="M179.5 1141 V1150 L180.5 1153 V1163 L179.5 1166 V1181M182.3 1141 V1150 L183.3 1153 V1163 L182.3 1166 V1181M185.1 1141 V1150 L186.1 1153 V1163 L185.1 1166 V1181M187.9 1141 V1150 L188.9 1153 V1163 L187.9 1166 V1181M190.7 1141 V1150 L191.7 1153 V1163 L190.7 1166 V1181M193.5 1141 V1150 L194.5 1153 V1163 L193.5 1166 V1181M196.3 1141 V1150 L197.3 1153 V1163 L196.3 1166 V1181M199.1 1141 V1150 L200.1 1153 V1163 L199.1 1166 V1181" stroke-width="0.9" fill="none"/><path d="M208.5 1226.3 L184 1250 Q168 1252 168.5 1268.6 Q168 1285 184 1287.5 L208.5 1311.3 M208.5 1234.1 L191 1250.8 Q198 1256 198 1265.4 H208.5 M208.5 1271.8 H198 Q198 1281 191 1286.1 L208.5 1302.4" stroke-width="1.9" fill="#fff"/><ellipse cx="183.3" cy="1268.6" rx="8.7" ry="13.4" stroke-width="1.9" fill="#fff"/><g transform="translate(665 0) scale(-1 1)"><path d="M209 1116.6 H204.4 Q202.2 1116.6 202.2 1118.8 V1203.5 Q202.2 1205.7 204.4 1205.7 H209" stroke-width="1.8" fill="#fff"/><path d="M202 1139.5 H178.5 Q176.5 1139.5 176.5 1141.5 V1180.4 Q176.5 1182.4 178.5 1182.4 H202 Z" stroke-width="1.8" fill="#fff"/><path d="M179.5 1141 V1150 L180.5 1153 V1163 L179.5 1166 V1181M182.3 1141 V1150 L183.3 1153 V1163 L182.3 1166 V1181M185.1 1141 V1150 L186.1 1153 V1163 L185.1 1166 V1181M187.9 1141 V1150 L188.9 1153 V1163 L187.9 1166 V1181M190.7 1141 V1150 L191.7 1153 V1163 L190.7 1166 V1181M193.5 1141 V1150 L194.5 1153 V1163 L193.5 1166 V1181M196.3 1141 V1150 L197.3 1153 V1163 L196.3 1166 V1181M199.1 1141 V1150 L200.1 1153 V1163 L199.1 1166 V1181" stroke-width="0.9" fill="none"/><path d="M208.5 1226.3 L184 1250 Q168 1252 168.5 1268.6 Q168 1285 184 1287.5 L208.5 1311.3 M208.5 1234.1 L191 1250.8 Q198 1256 198 1265.4 H208.5 M208.5 1271.8 H198 Q198 1281 191 1286.1 L208.5 1302.4" stroke-width="1.9" fill="#fff"/><ellipse cx="183.3" cy="1268.6" rx="8.7" ry="13.4" stroke-width="1.9" fill="#fff"/></g><line x1="155.8" y1="1086.2" x2="155.8" y2="1236.2" stroke-width="2" /><line x1="145.5" y1="1139.8" x2="173.6" y2="1139.8" stroke-width="2" /><line x1="145.5" y1="1182.2" x2="173.6" y2="1182.2" stroke-width="2" /><polygon class="f" points="155.8,1139.8 150.8,1112.8 160.8,1112.8"/><polygon class="f" points="155.8,1182.2 150.8,1209.2 160.8,1209.2"/><g transform="translate(142.9 1209.5) rotate(-90)"><text x="0" y="0" class="sans" font-size="36.5">G1/2</text><path d="M84.1 -22 L90.6 -29.2 M90.4 -22 L96.9 -29.2" stroke-width="2.1" fill="none"/></g><line x1="508" y1="1086.5" x2="508" y2="1235.5" stroke-width="2" /><line x1="489.3" y1="1139.5" x2="518.2" y2="1139.5" stroke-width="2" /><line x1="489.3" y1="1182" x2="518.2" y2="1182" stroke-width="2" /><polygon class="f" points="508.0,1139.5 503.0,1112.5 513.0,1112.5"/><polygon class="f" points="508.0,1182.0 503.0,1209.0 513.0,1209.0"/><g transform="translate(547.9 1209.5) rotate(-90)"><text x="0" y="0" class="sans" font-size="36.5">G1/2</text><path d="M84.1 -22 L90.6 -29.2 M90.4 -22 L96.9 -29.2" stroke-width="2.1" fill="none"/></g><line x1="459.5" y1="1110.2" x2="619.3" y2="1110.2" stroke-width="2" /><line x1="459.5" y1="1368" x2="619.3" y2="1368" stroke-width="2" /><line x1="607.9" y1="1110.2" x2="607.9" y2="1368" stroke-width="2" /><polygon class="f" points="607.9,1110.2 602.9,1137.2 612.9,1137.2"/><polygon class="f" points="607.9,1368.0 602.9,1341.0 612.9,1341.0"/><text class="serif thin" font-size="37" text-anchor="middle" transform="translate(594.1 0) rotate(-90)"><tspan x="-1278.9" y="0">1</tspan><tspan x="-1259.7" y="0">2</tspan><tspan x="-1240.9" y="0">6</tspan><tspan x="-1225.9" y="0">.</tspan><tspan x="-1202.6" y="0">5</tspan></text><path d="M215.4 1368 V1375 H315.4 V1368 M350.2 1368 V1375 H448.8 V1368 M265.6 1368 V1381 M399.5 1368 V1381" stroke-width="2" fill="none"/><line x1="238.7" y1="1375" x2="238.7" y2="1442.2" stroke-width="1.3" /><line x1="292.4" y1="1375" x2="292.4" y2="1442.2" stroke-width="1.3" /><line x1="372.5" y1="1375" x2="372.5" y2="1442.2" stroke-width="1.3" /><line x1="426.4" y1="1375" x2="426.4" y2="1442.2" stroke-width="1.3" /><line x1="63.8" y1="1422.5" x2="601.1" y2="1422.5" stroke-width="2" /><polygon class="f" points="238.7,1422.5 211.7,1417.5 211.7,1427.5"/><polygon class="f" points="292.4,1422.5 319.4,1417.5 319.4,1427.5"/><polygon class="f" points="372.5,1422.5 345.5,1417.5 345.5,1427.5"/><polygon class="f" points="426.4,1422.5 453.4,1417.5 453.4,1427.5"/><path d="M265.6 1414.6 L270.1 1429.1 L267.8 1429.1 L267.8 1448 L263.40000000000003 1448 L263.40000000000003 1429.1 L261.1 1429.1 Z" stroke="#c01018" stroke-width="2.2" fill="none"/><path d="M261.3 1458.8V1472.3M269.7 1458.8V1472.3M261.3 1465.55H269.7" stroke="#c01018" stroke-width="2.2" fill="none"/><path d="M399.5 1414.4 L404.0 1428.9 L401.7 1428.9 L401.7 1447.9 L397.3 1447.9 L397.3 1428.9 L395.0 1428.9 Z" stroke="#1c1c8c" stroke-width="2.2" fill="none"/><path d="M403.05 1461.3 Q402.05 1458.8 398.8 1458.8 Q394.55 1458.8 394.55 1465.55 Q394.55 1472.3 398.8 1472.3 Q402.05 1472.3 403.05 1469.8" stroke="#1c1c8c" stroke-width="2.1" fill="none"/><text x="76.3" y="1409.7" class="sans" font-size="36.5">G3/4</text><path d="M160.2 1387.4 L166.5 1380.4 M166.5 1387.4 L172.8 1380.4" stroke-width="2.1" fill="none"/><text x="491.5" y="1409.7" class="sans" font-size="36.5">G3/4</text><path d="M575.4 1387.4 L581.7 1380.4 M581.7 1387.4 L588.0 1380.4" stroke-width="2.1" fill="none"/>
</svg>
</body></html>
